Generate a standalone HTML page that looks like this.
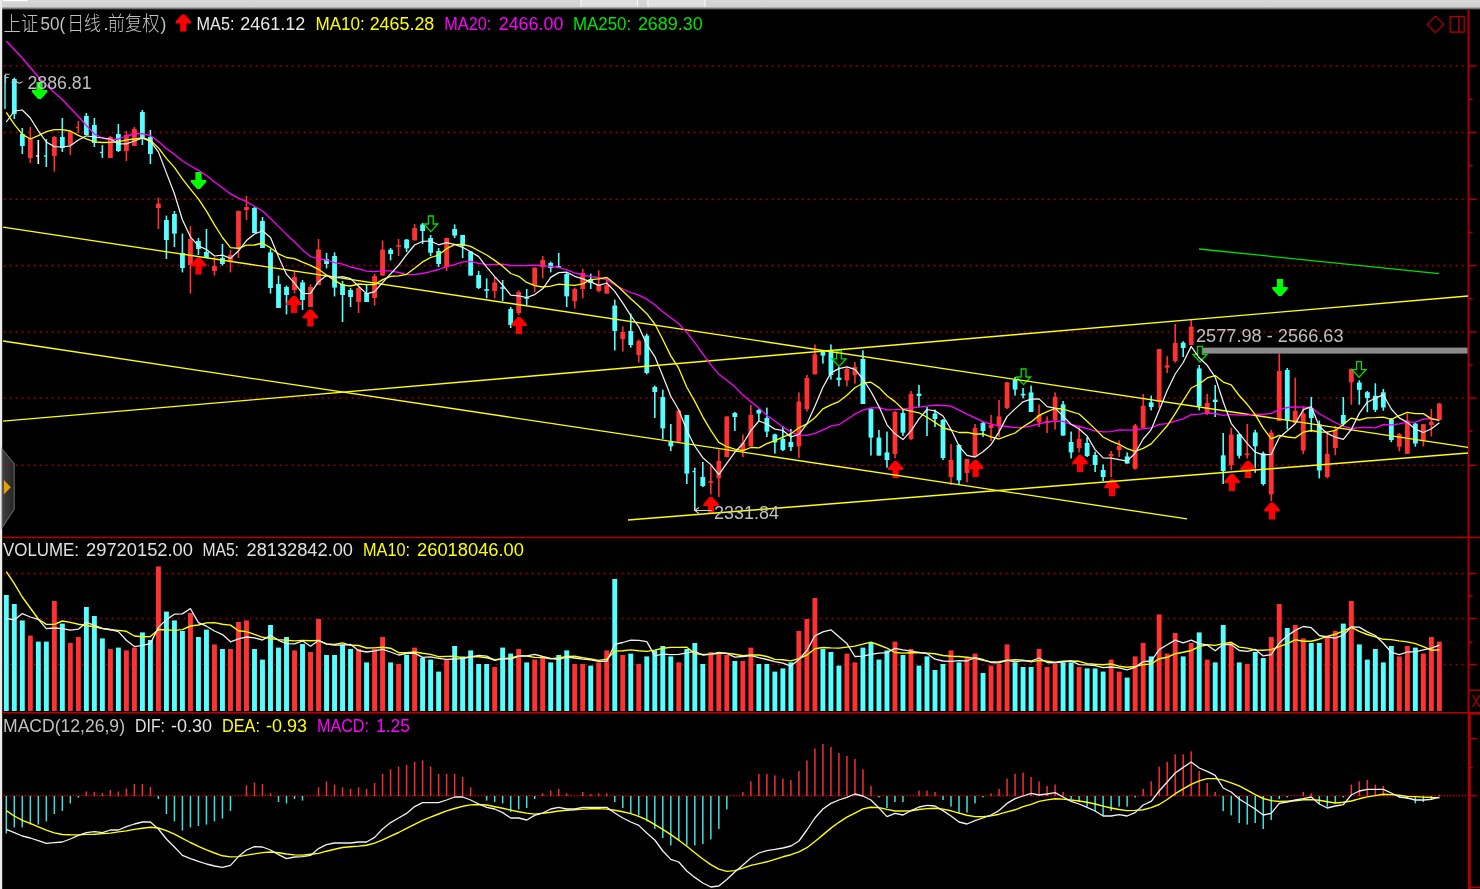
<!DOCTYPE html><html><head><meta charset="utf-8"><title>chart</title><style>html,body{margin:0;padding:0;background:#000;overflow:hidden}body{width:1480px;height:889px}</style></head><body><svg width="1480" height="889" viewBox="0 0 1480 889" style="display:block" font-family="'Liberation Sans','Noto Sans CJK SC',sans-serif">
<defs><linearGradient id="tg" x1="0" y1="0" x2="0" y2="1"><stop offset="0" stop-color="#d7d7d7"/><stop offset="0.68" stop-color="#d1d1d1"/><stop offset="0.86" stop-color="#707070"/><stop offset="1" stop-color="#000"/></linearGradient><linearGradient id="tab" x1="0" y1="0" x2="1" y2="0"><stop offset="0" stop-color="#404040"/><stop offset="1" stop-color="#262626"/></linearGradient><filter id="bl" x="0" y="0" width="1480" height="889" filterUnits="userSpaceOnUse"><feGaussianBlur stdDeviation="0.42"/></filter></defs>
<rect width="1480" height="889" fill="#000"/>
<rect x="0" y="0" width="1480" height="10" fill="url(#tg)"/>
<rect x="3" y="0" width="24.6" height="1.2" fill="#fff"/>
<rect x="580.5" y="0" width="57.5" height="6.6" fill="#e0e0e0"/><rect x="647.4" y="0" width="58" height="6.6" fill="#e0e0e0"/>
<rect x="580.5" y="0" width="1.2" height="6.6" fill="#f6f6f6"/>
<rect x="637" y="0" width="1.2" height="6.6" fill="#f6f6f6"/>
<rect x="647.4" y="0" width="1.2" height="6.6" fill="#f6f6f6"/>
<rect x="704.4" y="0" width="1.2" height="6.6" fill="#f6f6f6"/>
<rect x="0" y="0" width="2.2" height="889" fill="#ebebeb"/>
<g filter="url(#bl)">
<path d="M2.2 449 L14.2 464 L14.2 509 L2.2 527.5 Z" fill="url(#tab)" stroke="#5e5e5e" stroke-width="1.2"/>
<path d="M3.8 480 L10.8 487.3 L3.8 494.4 Z" fill="#e8a000"/>
<line x1="3.7" y1="66" x2="1466" y2="66" stroke="#ac0000" stroke-width="1.6" stroke-dasharray="1.7 4.3"/>
<line x1="3.7" y1="132.4" x2="1466" y2="132.4" stroke="#ac0000" stroke-width="1.6" stroke-dasharray="1.7 4.3"/>
<line x1="3.7" y1="199.3" x2="1466" y2="199.3" stroke="#ac0000" stroke-width="1.6" stroke-dasharray="1.7 4.3"/>
<line x1="3.7" y1="265.6" x2="1466" y2="265.6" stroke="#ac0000" stroke-width="1.6" stroke-dasharray="1.7 4.3"/>
<line x1="3.7" y1="332" x2="1466" y2="332" stroke="#ac0000" stroke-width="1.6" stroke-dasharray="1.7 4.3"/>
<line x1="3.7" y1="398" x2="1466" y2="398" stroke="#ac0000" stroke-width="1.6" stroke-dasharray="1.7 4.3"/>
<line x1="3.7" y1="465.3" x2="1466" y2="465.3" stroke="#ac0000" stroke-width="1.6" stroke-dasharray="1.7 4.3"/>
<line x1="3.7" y1="573.6" x2="1466" y2="573.6" stroke="#ac0000" stroke-width="1.6" stroke-dasharray="1.7 4.3"/>
<line x1="3.7" y1="618.5" x2="1466" y2="618.5" stroke="#ac0000" stroke-width="1.6" stroke-dasharray="1.7 4.3"/>
<line x1="3.7" y1="664.5" x2="1466" y2="664.5" stroke="#ac0000" stroke-width="1.6" stroke-dasharray="1.7 4.3"/>
<line x1="3.5" y1="795.8" x2="1466" y2="795.8" stroke="#ac0000" stroke-width="1.6" stroke-dasharray="1.7 1.3"/>
<rect x="2" y="536.7" width="1478" height="1.5" fill="#b40000"/>
<rect x="2" y="712" width="1478" height="1.6" fill="#b40000"/>
<rect x="1467.5" y="10" width="2.1" height="703" fill="#a80000"/>
<rect x="1467.8" y="713" width="3" height="176" fill="#b40000"/>
<rect x="1468" y="65.3" width="8.6" height="1.4" fill="#b40000"/>
<rect x="1468" y="98.5" width="4.6" height="1.4" fill="#b40000"/>
<rect x="1468" y="131.70000000000002" width="8.6" height="1.4" fill="#b40000"/>
<rect x="1468" y="164.90000000000003" width="4.6" height="1.4" fill="#b40000"/>
<rect x="1468" y="198.60000000000002" width="8.6" height="1.4" fill="#b40000"/>
<rect x="1468" y="231.8" width="4.6" height="1.4" fill="#b40000"/>
<rect x="1468" y="264.90000000000003" width="8.6" height="1.4" fill="#b40000"/>
<rect x="1468" y="298.1" width="4.6" height="1.4" fill="#b40000"/>
<rect x="1468" y="331.3" width="8.6" height="1.4" fill="#b40000"/>
<rect x="1468" y="364.5" width="4.6" height="1.4" fill="#b40000"/>
<rect x="1468" y="397.3" width="8.6" height="1.4" fill="#b40000"/>
<rect x="1468" y="430.5" width="4.6" height="1.4" fill="#b40000"/>
<rect x="1468" y="464.6" width="8.6" height="1.4" fill="#b40000"/>
<rect x="1468" y="572.9" width="8.6" height="1.4" fill="#b40000"/>
<rect x="1468" y="617.8" width="8.6" height="1.4" fill="#b40000"/>
<rect x="1468" y="663.8" width="8.6" height="1.4" fill="#b40000"/>
<rect x="1468" y="595.3" width="4.6" height="1.4" fill="#b40000"/>
<rect x="1468" y="641.5999999999999" width="4.6" height="1.4" fill="#b40000"/>
<rect x="1468" y="689.5" width="12" height="1.4" fill="#b40000"/>
<path d="M1472.5 695 L1480 707 M1480 695 L1472.5 707" stroke="#b40000" stroke-width="1.2" fill="none"/>
<rect x="1468" y="737.8" width="9.2" height="1.4" fill="#b40000"/>
<rect x="1468" y="766.8" width="4.8" height="1.4" fill="#b40000"/>
<rect x="1468" y="795.0999999999999" width="9.2" height="1.4" fill="#b40000"/>
<rect x="1468" y="712" width="12" height="2.6" fill="#b40000"/>
<rect x="1468" y="886.6" width="12" height="1.6" fill="#b40000"/>
<path d="M1435.5 16.2 L1443.7 24.4 L1435.5 32.6 L1427.3 24.4 Z" fill="none" stroke="#b40000" stroke-width="1.2"/>
<rect x="1450.2" y="16.5" width="14" height="15.6" fill="none" stroke="#b40000" stroke-width="1.3"/><line x1="1458.8" y1="16.5" x2="1458.8" y2="32" stroke="#b40000" stroke-width="1.3"/>
<rect x="4.30" y="75" width="1.4" height="34.0" fill="#54ffff"/>
<rect x="13.51" y="77.6" width="1.6" height="41.4" fill="#54ffff"/>
<rect x="11.91" y="79" width="4.8" height="35.0" fill="#54ffff"/>
<rect x="21.51" y="128" width="1.6" height="26.0" fill="#54ffff"/>
<rect x="19.91" y="134" width="4.8" height="12.0" fill="#54ffff"/>
<rect x="29.52" y="127" width="1.6" height="36.0" fill="#ff3232"/>
<rect x="27.92" y="138" width="4.8" height="20.0" fill="#ff3232"/>
<rect x="37.52" y="140" width="1.6" height="24.0" fill="#ffffff"/>
<rect x="35.92" y="155.3" width="2" height="1.4" fill="#ffffff"/>
<rect x="45.53" y="139" width="1.6" height="28.0" fill="#54ffff"/>
<rect x="43.93" y="155.3" width="2" height="1.4" fill="#54ffff"/>
<rect x="53.54" y="136" width="1.6" height="35.6" fill="#ff3232"/>
<rect x="51.94" y="137" width="4.8" height="19.0" fill="#ff3232"/>
<rect x="61.54" y="118" width="1.6" height="34.0" fill="#54ffff"/>
<rect x="59.94" y="137" width="4.8" height="11.0" fill="#54ffff"/>
<rect x="69.55" y="131" width="1.6" height="24.0" fill="#ff3232"/>
<rect x="67.95" y="132" width="4.8" height="13.0" fill="#ff3232"/>
<rect x="77.55" y="121" width="1.6" height="12.0" fill="#ff3232"/>
<rect x="75.95" y="126.8" width="2" height="1.4" fill="#ff3232"/>
<rect x="85.56" y="113" width="1.6" height="22.0" fill="#54ffff"/>
<rect x="83.96" y="116" width="4.8" height="19.0" fill="#54ffff"/>
<rect x="93.57" y="118" width="1.6" height="29.0" fill="#54ffff"/>
<rect x="91.97" y="125" width="4.8" height="18.0" fill="#54ffff"/>
<rect x="101.57" y="145" width="1.6" height="13.0" fill="#54ffff"/>
<rect x="99.97" y="151.8" width="2" height="1.4" fill="#54ffff"/>
<rect x="109.58" y="136" width="1.6" height="22.0" fill="#ff3232"/>
<rect x="107.98" y="137" width="4.8" height="21.0" fill="#ff3232"/>
<rect x="117.58" y="124" width="1.6" height="28.0" fill="#54ffff"/>
<rect x="115.98" y="134" width="4.8" height="17.0" fill="#54ffff"/>
<rect x="125.59" y="131" width="1.6" height="30.0" fill="#ff3232"/>
<rect x="123.99" y="135" width="4.8" height="16.0" fill="#ff3232"/>
<rect x="133.60" y="127" width="1.6" height="19.0" fill="#ff3232"/>
<rect x="132.00" y="129" width="4.8" height="17.0" fill="#ff3232"/>
<rect x="141.60" y="110" width="1.6" height="35.0" fill="#54ffff"/>
<rect x="140.00" y="112" width="4.8" height="26.0" fill="#54ffff"/>
<rect x="149.61" y="130" width="1.6" height="34.0" fill="#54ffff"/>
<rect x="148.01" y="137" width="4.8" height="17.0" fill="#54ffff"/>
<rect x="157.61" y="197.6" width="1.6" height="31.4" fill="#ff3232"/>
<rect x="156.01" y="203.6" width="4.8" height="4.4" fill="#ff3232"/>
<rect x="165.62" y="215.6" width="1.6" height="43.4" fill="#54ffff"/>
<rect x="164.02" y="220" width="4.8" height="20.0" fill="#54ffff"/>
<rect x="173.63" y="211" width="1.6" height="36.0" fill="#54ffff"/>
<rect x="172.03" y="214" width="4.8" height="19.6" fill="#54ffff"/>
<rect x="181.63" y="233.6" width="1.6" height="38.8" fill="#54ffff"/>
<rect x="180.03" y="253" width="4.8" height="15.0" fill="#54ffff"/>
<rect x="189.64" y="226" width="1.6" height="67.6" fill="#ff3232"/>
<rect x="188.04" y="239" width="4.8" height="26.0" fill="#ff3232"/>
<rect x="197.64" y="238" width="1.6" height="17.0" fill="#54ffff"/>
<rect x="196.04" y="241" width="4.8" height="8.0" fill="#54ffff"/>
<rect x="205.65" y="229" width="1.6" height="29.0" fill="#54ffff"/>
<rect x="204.05" y="252" width="4.8" height="6.0" fill="#54ffff"/>
<rect x="213.66" y="257" width="1.6" height="18.6" fill="#ff3232"/>
<rect x="212.06" y="266" width="4.8" height="5.0" fill="#ff3232"/>
<rect x="221.66" y="244" width="1.6" height="21.6" fill="#54ffff"/>
<rect x="220.06" y="258" width="4.8" height="6.0" fill="#54ffff"/>
<rect x="229.67" y="250" width="1.6" height="22.4" fill="#ff3232"/>
<rect x="228.07" y="255" width="4.8" height="6.0" fill="#ff3232"/>
<rect x="237.67" y="211" width="1.6" height="47.0" fill="#ff3232"/>
<rect x="236.07" y="211" width="4.8" height="38.0" fill="#ff3232"/>
<rect x="245.68" y="196" width="1.6" height="24.0" fill="#ff3232"/>
<rect x="244.08" y="207" width="4.8" height="3.0" fill="#ff3232"/>
<rect x="253.69" y="207" width="1.6" height="26.0" fill="#54ffff"/>
<rect x="252.09" y="208" width="4.8" height="25.0" fill="#54ffff"/>
<rect x="261.69" y="217" width="1.6" height="31.0" fill="#54ffff"/>
<rect x="260.09" y="221" width="4.8" height="27.0" fill="#54ffff"/>
<rect x="269.70" y="249" width="1.6" height="44.6" fill="#54ffff"/>
<rect x="268.10" y="252.4" width="4.8" height="35.6" fill="#54ffff"/>
<rect x="277.70" y="275.6" width="1.6" height="32.4" fill="#54ffff"/>
<rect x="276.10" y="284" width="4.8" height="24.0" fill="#54ffff"/>
<rect x="285.71" y="285.6" width="1.6" height="28.8" fill="#54ffff"/>
<rect x="284.11" y="287" width="4.8" height="8.0" fill="#54ffff"/>
<rect x="293.72" y="271" width="1.6" height="22.6" fill="#ff3232"/>
<rect x="292.12" y="277" width="4.8" height="13.0" fill="#ff3232"/>
<rect x="301.72" y="280" width="1.6" height="30.0" fill="#54ffff"/>
<rect x="300.12" y="282.4" width="4.8" height="17.6" fill="#54ffff"/>
<rect x="309.73" y="284.4" width="1.6" height="22.6" fill="#ff3232"/>
<rect x="308.13" y="287" width="4.8" height="20.0" fill="#ff3232"/>
<rect x="317.73" y="239" width="1.6" height="46.0" fill="#ff3232"/>
<rect x="316.13" y="249.6" width="4.8" height="35.4" fill="#ff3232"/>
<rect x="325.74" y="253" width="1.6" height="15.4" fill="#54ffff"/>
<rect x="324.14" y="259" width="4.8" height="5.0" fill="#54ffff"/>
<rect x="333.75" y="252.4" width="1.6" height="44.0" fill="#54ffff"/>
<rect x="332.15" y="256" width="4.8" height="31.6" fill="#54ffff"/>
<rect x="341.75" y="281" width="1.6" height="41.0" fill="#54ffff"/>
<rect x="340.15" y="284" width="4.8" height="11.0" fill="#54ffff"/>
<rect x="349.76" y="288" width="1.6" height="19.0" fill="#54ffff"/>
<rect x="348.16" y="290" width="4.8" height="7.0" fill="#54ffff"/>
<rect x="357.76" y="287" width="1.6" height="26.0" fill="#ff3232"/>
<rect x="356.16" y="288" width="4.8" height="14.0" fill="#ff3232"/>
<rect x="365.77" y="285" width="1.6" height="17.0" fill="#54ffff"/>
<rect x="364.17" y="293" width="4.8" height="9.0" fill="#54ffff"/>
<rect x="373.78" y="274" width="1.6" height="31.6" fill="#ff3232"/>
<rect x="372.18" y="276" width="4.8" height="22.0" fill="#ff3232"/>
<rect x="381.78" y="240.4" width="1.6" height="35.2" fill="#ff3232"/>
<rect x="380.18" y="249.6" width="4.8" height="26.0" fill="#ff3232"/>
<rect x="389.79" y="248" width="1.6" height="12.4" fill="#54ffff"/>
<rect x="388.19" y="249.6" width="4.8" height="4.4" fill="#54ffff"/>
<rect x="397.79" y="239" width="1.6" height="17.0" fill="#ff3232"/>
<rect x="396.19" y="245.2" width="4.8" height="1.6" fill="#ff3232"/>
<rect x="405.80" y="239" width="1.6" height="13.0" fill="#54ffff"/>
<rect x="404.20" y="239.6" width="4.8" height="8.8" fill="#54ffff"/>
<rect x="413.81" y="224" width="1.6" height="16.4" fill="#ff3232"/>
<rect x="412.21" y="228" width="4.8" height="12.4" fill="#ff3232"/>
<rect x="421.81" y="223" width="1.6" height="21.2" fill="#54ffff"/>
<rect x="420.21" y="224.4" width="4.8" height="6.6" fill="#54ffff"/>
<rect x="429.82" y="235" width="1.6" height="21.2" fill="#54ffff"/>
<rect x="428.22" y="238" width="4.8" height="14.7" fill="#54ffff"/>
<rect x="437.82" y="248" width="1.6" height="19.0" fill="#54ffff"/>
<rect x="436.22" y="251" width="4.8" height="13.0" fill="#54ffff"/>
<rect x="445.83" y="237.6" width="1.6" height="33.4" fill="#ff3232"/>
<rect x="444.23" y="238" width="4.8" height="29.0" fill="#ff3232"/>
<rect x="453.84" y="224.4" width="1.6" height="13.6" fill="#54ffff"/>
<rect x="452.24" y="229" width="4.8" height="6.6" fill="#54ffff"/>
<rect x="461.84" y="235" width="1.6" height="23.0" fill="#54ffff"/>
<rect x="460.24" y="235" width="4.8" height="11.0" fill="#54ffff"/>
<rect x="469.85" y="251" width="1.6" height="24.6" fill="#54ffff"/>
<rect x="468.25" y="251.6" width="4.8" height="24.0" fill="#54ffff"/>
<rect x="477.85" y="271" width="1.6" height="18.0" fill="#54ffff"/>
<rect x="476.25" y="275" width="4.8" height="13.0" fill="#54ffff"/>
<rect x="485.86" y="278.4" width="1.6" height="20.0" fill="#54ffff"/>
<rect x="484.26" y="289.2" width="4.8" height="1.6" fill="#54ffff"/>
<rect x="493.87" y="277" width="1.6" height="21.4" fill="#ff3232"/>
<rect x="492.27" y="282.4" width="4.8" height="8.6" fill="#ff3232"/>
<rect x="501.87" y="280" width="1.6" height="21.0" fill="#54ffff"/>
<rect x="500.27" y="287.2" width="4.8" height="1.6" fill="#54ffff"/>
<rect x="509.88" y="307" width="1.6" height="21.0" fill="#54ffff"/>
<rect x="508.28" y="309" width="4.8" height="16.0" fill="#54ffff"/>
<rect x="517.88" y="290.4" width="1.6" height="24.6" fill="#ff3232"/>
<rect x="516.28" y="292" width="4.8" height="21.0" fill="#ff3232"/>
<rect x="525.89" y="289" width="1.6" height="16.0" fill="#54ffff"/>
<rect x="524.29" y="297.2" width="4.8" height="1.6" fill="#54ffff"/>
<rect x="533.90" y="267" width="1.6" height="25.4" fill="#ff3232"/>
<rect x="532.30" y="268" width="4.8" height="18.0" fill="#ff3232"/>
<rect x="541.90" y="256" width="1.6" height="22.4" fill="#ff3232"/>
<rect x="540.30" y="260" width="4.8" height="7.0" fill="#ff3232"/>
<rect x="549.91" y="261.6" width="1.6" height="10.8" fill="#54ffff"/>
<rect x="548.31" y="263" width="4.8" height="5.0" fill="#54ffff"/>
<rect x="557.91" y="253" width="1.6" height="15.0" fill="#54ffff"/>
<rect x="556.31" y="266.2" width="4.8" height="1.6" fill="#54ffff"/>
<rect x="565.92" y="273" width="1.6" height="34.0" fill="#54ffff"/>
<rect x="564.32" y="274" width="4.8" height="22.4" fill="#54ffff"/>
<rect x="573.93" y="287.6" width="1.6" height="20.8" fill="#ff3232"/>
<rect x="572.33" y="289" width="4.8" height="12.0" fill="#ff3232"/>
<rect x="581.93" y="269" width="1.6" height="29.4" fill="#ff3232"/>
<rect x="580.33" y="273" width="4.8" height="16.0" fill="#ff3232"/>
<rect x="589.94" y="273.6" width="1.6" height="15.4" fill="#54ffff"/>
<rect x="588.34" y="279" width="4.8" height="4.0" fill="#54ffff"/>
<rect x="597.94" y="270.4" width="1.6" height="22.0" fill="#ff3232"/>
<rect x="596.34" y="285" width="4.8" height="6.0" fill="#ff3232"/>
<rect x="605.95" y="279" width="1.6" height="14.6" fill="#ff3232"/>
<rect x="604.35" y="285" width="4.8" height="8.6" fill="#ff3232"/>
<rect x="613.96" y="299.6" width="1.6" height="50.8" fill="#54ffff"/>
<rect x="612.36" y="305.6" width="4.8" height="25.4" fill="#54ffff"/>
<rect x="621.96" y="326.4" width="1.6" height="25.2" fill="#ff3232"/>
<rect x="620.36" y="332" width="4.8" height="7.0" fill="#ff3232"/>
<rect x="629.97" y="313.6" width="1.6" height="34.0" fill="#54ffff"/>
<rect x="628.37" y="331" width="4.8" height="14.0" fill="#54ffff"/>
<rect x="637.97" y="339.6" width="1.6" height="22.8" fill="#ff3232"/>
<rect x="636.37" y="341" width="4.8" height="14.0" fill="#ff3232"/>
<rect x="645.98" y="333.6" width="1.6" height="40.8" fill="#54ffff"/>
<rect x="644.38" y="335.6" width="4.8" height="37.4" fill="#54ffff"/>
<rect x="653.99" y="385.6" width="1.6" height="32.4" fill="#54ffff"/>
<rect x="652.39" y="387" width="4.8" height="5.0" fill="#54ffff"/>
<rect x="661.99" y="389.6" width="1.6" height="49.4" fill="#54ffff"/>
<rect x="660.39" y="397" width="4.8" height="31.4" fill="#54ffff"/>
<rect x="670.00" y="424" width="1.6" height="27.0" fill="#54ffff"/>
<rect x="668.40" y="442" width="4.8" height="4.4" fill="#54ffff"/>
<rect x="678.00" y="410.4" width="1.6" height="31.2" fill="#ff3232"/>
<rect x="676.40" y="410.4" width="4.8" height="31.2" fill="#ff3232"/>
<rect x="686.01" y="415" width="1.6" height="69.0" fill="#54ffff"/>
<rect x="684.41" y="415" width="4.8" height="58.6" fill="#54ffff"/>
<rect x="694.02" y="467.6" width="1.6" height="43.4" fill="#54ffff"/>
<rect x="692.42" y="470.8" width="2" height="1.4" fill="#54ffff"/>
<rect x="702.02" y="462" width="1.6" height="25.0" fill="#54ffff"/>
<rect x="700.42" y="477" width="4.8" height="9.0" fill="#54ffff"/>
<rect x="710.03" y="465.6" width="1.6" height="28.8" fill="#ff3232"/>
<rect x="708.43" y="481.2" width="4.8" height="1.6" fill="#ff3232"/>
<rect x="718.03" y="449.6" width="1.6" height="47.4" fill="#ff3232"/>
<rect x="716.43" y="461" width="4.8" height="17.0" fill="#ff3232"/>
<rect x="726.04" y="416.4" width="1.6" height="40.6" fill="#ff3232"/>
<rect x="724.44" y="416.4" width="4.8" height="40.6" fill="#ff3232"/>
<rect x="734.05" y="412" width="1.6" height="19.0" fill="#54ffff"/>
<rect x="732.45" y="413" width="4.8" height="4.0" fill="#54ffff"/>
<rect x="742.05" y="434.4" width="1.6" height="22.6" fill="#ff3232"/>
<rect x="740.45" y="443" width="4.8" height="8.0" fill="#ff3232"/>
<rect x="750.06" y="405" width="1.6" height="41.4" fill="#ff3232"/>
<rect x="748.46" y="415" width="4.8" height="31.4" fill="#ff3232"/>
<rect x="758.06" y="409" width="1.6" height="12.0" fill="#54ffff"/>
<rect x="756.46" y="410" width="4.8" height="3.6" fill="#54ffff"/>
<rect x="766.07" y="407.6" width="1.6" height="29.4" fill="#54ffff"/>
<rect x="764.47" y="418" width="4.8" height="13.6" fill="#54ffff"/>
<rect x="774.08" y="433.6" width="1.6" height="20.0" fill="#54ffff"/>
<rect x="772.48" y="434.4" width="4.8" height="8.0" fill="#54ffff"/>
<rect x="782.08" y="426" width="1.6" height="25.0" fill="#54ffff"/>
<rect x="780.48" y="439" width="4.8" height="11.0" fill="#54ffff"/>
<rect x="790.09" y="429" width="1.6" height="22.0" fill="#54ffff"/>
<rect x="788.49" y="442" width="4.8" height="5.0" fill="#54ffff"/>
<rect x="798.09" y="392.4" width="1.6" height="65.6" fill="#ff3232"/>
<rect x="796.49" y="401.6" width="4.8" height="44.8" fill="#ff3232"/>
<rect x="806.10" y="375" width="1.6" height="36.6" fill="#ff3232"/>
<rect x="804.50" y="378" width="4.8" height="31.0" fill="#ff3232"/>
<rect x="814.11" y="344.4" width="1.6" height="30.0" fill="#ff3232"/>
<rect x="812.51" y="354.4" width="4.8" height="20.0" fill="#ff3232"/>
<rect x="822.11" y="351" width="1.6" height="12.6" fill="#54ffff"/>
<rect x="820.51" y="351.6" width="4.8" height="4.0" fill="#54ffff"/>
<rect x="830.12" y="344.4" width="1.6" height="35.2" fill="#54ffff"/>
<rect x="828.52" y="351" width="4.8" height="24.0" fill="#54ffff"/>
<rect x="838.12" y="367" width="1.6" height="19.4" fill="#54ffff"/>
<rect x="836.52" y="377.6" width="4.8" height="2.4" fill="#54ffff"/>
<rect x="846.13" y="367" width="1.6" height="19.4" fill="#ff3232"/>
<rect x="844.53" y="369" width="4.8" height="11.4" fill="#ff3232"/>
<rect x="854.14" y="362" width="1.6" height="21.6" fill="#ff3232"/>
<rect x="852.54" y="367" width="4.8" height="8.0" fill="#ff3232"/>
<rect x="862.14" y="350.4" width="1.6" height="53.6" fill="#54ffff"/>
<rect x="860.54" y="359" width="4.8" height="45.0" fill="#54ffff"/>
<rect x="870.15" y="408" width="1.6" height="47.6" fill="#54ffff"/>
<rect x="868.55" y="409" width="4.8" height="28.6" fill="#54ffff"/>
<rect x="878.15" y="430" width="1.6" height="25.6" fill="#54ffff"/>
<rect x="876.55" y="437.6" width="4.8" height="18.0" fill="#54ffff"/>
<rect x="886.16" y="431.6" width="1.6" height="36.0" fill="#54ffff"/>
<rect x="884.56" y="452.4" width="4.8" height="7.6" fill="#54ffff"/>
<rect x="894.17" y="411" width="1.6" height="47.4" fill="#ff3232"/>
<rect x="892.57" y="412" width="4.8" height="42.0" fill="#ff3232"/>
<rect x="902.17" y="409.6" width="1.6" height="26.4" fill="#54ffff"/>
<rect x="900.57" y="413" width="4.8" height="19.7" fill="#54ffff"/>
<rect x="910.18" y="391" width="1.6" height="49.2" fill="#ff3232"/>
<rect x="908.58" y="393.8" width="4.8" height="45.2" fill="#ff3232"/>
<rect x="918.18" y="385" width="1.6" height="22.0" fill="#54ffff"/>
<rect x="916.58" y="393.6" width="4.8" height="2.4" fill="#54ffff"/>
<rect x="926.19" y="407" width="1.6" height="29.0" fill="#54ffff"/>
<rect x="924.59" y="411.3" width="2" height="1.4" fill="#54ffff"/>
<rect x="934.20" y="409.6" width="1.6" height="17.4" fill="#54ffff"/>
<rect x="932.60" y="413.6" width="4.8" height="5.4" fill="#54ffff"/>
<rect x="942.20" y="419" width="1.6" height="41.0" fill="#54ffff"/>
<rect x="940.60" y="420" width="4.8" height="38.0" fill="#54ffff"/>
<rect x="950.21" y="444" width="1.6" height="41.0" fill="#ff3232"/>
<rect x="948.61" y="460" width="4.8" height="17.0" fill="#ff3232"/>
<rect x="958.21" y="444" width="1.6" height="40.0" fill="#54ffff"/>
<rect x="956.61" y="445" width="4.8" height="35.4" fill="#54ffff"/>
<rect x="966.22" y="459" width="1.6" height="23.4" fill="#ff3232"/>
<rect x="964.62" y="459" width="4.8" height="14.0" fill="#ff3232"/>
<rect x="974.23" y="424" width="1.6" height="33.0" fill="#ff3232"/>
<rect x="972.63" y="428" width="4.8" height="29.0" fill="#ff3232"/>
<rect x="982.23" y="421" width="1.6" height="16.0" fill="#54ffff"/>
<rect x="980.63" y="423" width="4.8" height="8.0" fill="#54ffff"/>
<rect x="990.24" y="415" width="1.6" height="26.0" fill="#ff3232"/>
<rect x="988.64" y="425" width="4.8" height="3.0" fill="#ff3232"/>
<rect x="998.24" y="400" width="1.6" height="37.0" fill="#ff3232"/>
<rect x="996.64" y="416.4" width="4.8" height="10.0" fill="#ff3232"/>
<rect x="1006.25" y="382" width="1.6" height="27.0" fill="#ff3232"/>
<rect x="1004.65" y="382.4" width="4.8" height="25.6" fill="#ff3232"/>
<rect x="1014.26" y="377" width="1.6" height="18.6" fill="#54ffff"/>
<rect x="1012.66" y="380" width="4.8" height="9.6" fill="#54ffff"/>
<rect x="1022.26" y="388" width="1.6" height="10.4" fill="#54ffff"/>
<rect x="1020.66" y="393.8" width="4.8" height="1.6" fill="#54ffff"/>
<rect x="1030.27" y="385.6" width="1.6" height="26.4" fill="#54ffff"/>
<rect x="1028.67" y="392.4" width="4.8" height="19.6" fill="#54ffff"/>
<rect x="1038.27" y="404.4" width="1.6" height="22.6" fill="#ff3232"/>
<rect x="1036.67" y="415" width="4.8" height="7.4" fill="#ff3232"/>
<rect x="1046.28" y="416.4" width="1.6" height="16.6" fill="#ff3232"/>
<rect x="1044.68" y="421.2" width="4.8" height="1.6" fill="#ff3232"/>
<rect x="1054.29" y="392.4" width="1.6" height="37.2" fill="#ff3232"/>
<rect x="1052.69" y="397" width="4.8" height="23.0" fill="#ff3232"/>
<rect x="1062.29" y="401" width="1.6" height="34.6" fill="#54ffff"/>
<rect x="1060.69" y="404.4" width="4.8" height="31.2" fill="#54ffff"/>
<rect x="1070.30" y="431.6" width="1.6" height="26.8" fill="#54ffff"/>
<rect x="1068.70" y="442" width="4.8" height="10.4" fill="#54ffff"/>
<rect x="1078.30" y="425.6" width="1.6" height="26.8" fill="#ff3232"/>
<rect x="1076.70" y="439" width="4.8" height="9.0" fill="#ff3232"/>
<rect x="1086.31" y="437" width="1.6" height="20.0" fill="#54ffff"/>
<rect x="1084.71" y="443" width="4.8" height="13.0" fill="#54ffff"/>
<rect x="1094.32" y="451.6" width="1.6" height="20.4" fill="#54ffff"/>
<rect x="1092.72" y="455" width="4.8" height="10.0" fill="#54ffff"/>
<rect x="1102.32" y="464.4" width="1.6" height="16.6" fill="#54ffff"/>
<rect x="1100.72" y="470" width="4.8" height="7.0" fill="#54ffff"/>
<rect x="1110.33" y="451" width="1.6" height="26.0" fill="#ff3232"/>
<rect x="1108.73" y="454" width="4.8" height="2.4" fill="#ff3232"/>
<rect x="1118.33" y="440.4" width="1.6" height="16.6" fill="#ff3232"/>
<rect x="1116.73" y="446" width="4.8" height="4.0" fill="#ff3232"/>
<rect x="1126.34" y="452.4" width="1.6" height="11.2" fill="#54ffff"/>
<rect x="1124.74" y="456.4" width="4.8" height="7.2" fill="#54ffff"/>
<rect x="1134.35" y="424" width="1.6" height="45.6" fill="#ff3232"/>
<rect x="1132.75" y="425.5" width="4.8" height="43.2" fill="#ff3232"/>
<rect x="1142.35" y="394" width="1.6" height="33.8" fill="#ff3232"/>
<rect x="1140.75" y="405.8" width="4.8" height="22.0" fill="#ff3232"/>
<rect x="1150.36" y="395.6" width="1.6" height="14.8" fill="#54ffff"/>
<rect x="1148.76" y="402.4" width="4.8" height="4.6" fill="#54ffff"/>
<rect x="1158.36" y="349" width="1.6" height="58.8" fill="#ff3232"/>
<rect x="1156.76" y="349" width="4.8" height="53.0" fill="#ff3232"/>
<rect x="1166.37" y="356.2" width="1.6" height="16.8" fill="#ff3232"/>
<rect x="1164.77" y="365.3" width="4.8" height="2.3" fill="#ff3232"/>
<rect x="1174.38" y="324" width="1.6" height="38.7" fill="#ff3232"/>
<rect x="1172.78" y="343" width="4.8" height="18.0" fill="#ff3232"/>
<rect x="1182.38" y="341.3" width="1.6" height="15.7" fill="#54ffff"/>
<rect x="1180.78" y="342.7" width="4.8" height="5.3" fill="#54ffff"/>
<rect x="1190.39" y="320" width="1.6" height="25.0" fill="#ff3232"/>
<rect x="1188.79" y="326.5" width="4.8" height="18.5" fill="#ff3232"/>
<rect x="1198.39" y="365" width="1.6" height="45.4" fill="#54ffff"/>
<rect x="1196.79" y="368.4" width="4.8" height="37.6" fill="#54ffff"/>
<rect x="1206.40" y="394" width="1.6" height="21.0" fill="#ff3232"/>
<rect x="1204.80" y="403" width="4.8" height="10.0" fill="#ff3232"/>
<rect x="1214.41" y="385" width="1.6" height="32.0" fill="#54ffff"/>
<rect x="1212.81" y="399.6" width="4.8" height="2.4" fill="#54ffff"/>
<rect x="1222.41" y="433" width="1.6" height="51.0" fill="#54ffff"/>
<rect x="1220.81" y="455.3" width="4.8" height="15.7" fill="#54ffff"/>
<rect x="1230.42" y="428" width="1.6" height="42.0" fill="#ff3232"/>
<rect x="1228.82" y="434.5" width="4.8" height="30.5" fill="#ff3232"/>
<rect x="1238.42" y="434" width="1.6" height="24.4" fill="#54ffff"/>
<rect x="1236.82" y="434.2" width="4.8" height="21.6" fill="#54ffff"/>
<rect x="1246.43" y="424" width="1.6" height="34.5" fill="#ff3232"/>
<rect x="1244.83" y="453.5" width="4.8" height="1.6" fill="#ff3232"/>
<rect x="1254.44" y="429.8" width="1.6" height="43.0" fill="#54ffff"/>
<rect x="1252.84" y="432.4" width="4.8" height="13.9" fill="#54ffff"/>
<rect x="1262.44" y="451.5" width="1.6" height="34.1" fill="#54ffff"/>
<rect x="1260.84" y="453.3" width="4.8" height="30.7" fill="#54ffff"/>
<rect x="1270.45" y="429.8" width="1.6" height="71.2" fill="#ff3232"/>
<rect x="1268.85" y="432.5" width="4.8" height="61.9" fill="#ff3232"/>
<rect x="1278.45" y="353.6" width="1.6" height="67.4" fill="#ff3232"/>
<rect x="1276.85" y="371" width="4.8" height="50.0" fill="#ff3232"/>
<rect x="1286.46" y="368" width="1.6" height="61.5" fill="#54ffff"/>
<rect x="1284.86" y="370" width="4.8" height="50.0" fill="#54ffff"/>
<rect x="1294.47" y="377.6" width="1.6" height="45.4" fill="#ff3232"/>
<rect x="1292.87" y="411" width="4.8" height="12.0" fill="#ff3232"/>
<rect x="1302.47" y="406.5" width="1.6" height="47.7" fill="#ff3232"/>
<rect x="1300.87" y="413.5" width="4.8" height="37.0" fill="#ff3232"/>
<rect x="1310.48" y="397" width="1.6" height="35.0" fill="#54ffff"/>
<rect x="1308.88" y="408" width="4.8" height="10.0" fill="#54ffff"/>
<rect x="1318.48" y="420.5" width="1.6" height="57.9" fill="#54ffff"/>
<rect x="1316.88" y="424.5" width="4.8" height="46.0" fill="#54ffff"/>
<rect x="1326.49" y="431.5" width="1.6" height="46.9" fill="#ff3232"/>
<rect x="1324.89" y="454" width="4.8" height="23.0" fill="#ff3232"/>
<rect x="1334.50" y="425.8" width="1.6" height="29.5" fill="#ff3232"/>
<rect x="1332.90" y="430" width="4.8" height="18.0" fill="#ff3232"/>
<rect x="1342.50" y="397" width="1.6" height="29.2" fill="#54ffff"/>
<rect x="1340.90" y="415" width="4.8" height="9.2" fill="#54ffff"/>
<rect x="1350.51" y="368.4" width="1.6" height="36.3" fill="#ff3232"/>
<rect x="1348.91" y="369" width="4.8" height="13.3" fill="#ff3232"/>
<rect x="1358.51" y="380.2" width="1.6" height="24.5" fill="#54ffff"/>
<rect x="1356.91" y="382.5" width="4.8" height="7.3" fill="#54ffff"/>
<rect x="1366.52" y="391" width="1.6" height="21.2" fill="#54ffff"/>
<rect x="1364.92" y="392.2" width="4.8" height="5.8" fill="#54ffff"/>
<rect x="1374.53" y="383.3" width="1.6" height="28.7" fill="#54ffff"/>
<rect x="1372.93" y="395.8" width="4.8" height="14.0" fill="#54ffff"/>
<rect x="1382.53" y="389" width="1.6" height="21.7" fill="#54ffff"/>
<rect x="1380.93" y="392.3" width="4.8" height="15.2" fill="#54ffff"/>
<rect x="1390.54" y="418" width="1.6" height="24.2" fill="#54ffff"/>
<rect x="1388.94" y="419.3" width="4.8" height="20.7" fill="#54ffff"/>
<rect x="1398.54" y="433" width="1.6" height="18.3" fill="#ff3232"/>
<rect x="1396.94" y="434.2" width="4.8" height="12.5" fill="#ff3232"/>
<rect x="1406.55" y="413.8" width="1.6" height="40.0" fill="#ff3232"/>
<rect x="1404.95" y="420.5" width="4.8" height="33.3" fill="#ff3232"/>
<rect x="1414.56" y="423" width="1.6" height="23.7" fill="#54ffff"/>
<rect x="1412.96" y="423.6" width="4.8" height="19.9" fill="#54ffff"/>
<rect x="1422.56" y="424" width="1.6" height="22.4" fill="#ff3232"/>
<rect x="1420.96" y="424.2" width="4.8" height="16.3" fill="#ff3232"/>
<rect x="1430.57" y="409" width="1.6" height="27.4" fill="#ff3232"/>
<rect x="1428.97" y="421.6" width="4.8" height="3.4" fill="#ff3232"/>
<rect x="1438.57" y="403" width="1.6" height="17.0" fill="#ff3232"/>
<rect x="1436.97" y="403.6" width="4.8" height="16.4" fill="#ff3232"/>
<path d="M36.5 82 h6.2 v8 h4.6 v2 l-6.2 7 h-3 l-6.2 -7 v-2 h4.6 z" fill="#00ff00"/>
<path d="M195.4 172 h6.2 v8 h4.6 v2 l-6.2 7 h-3 l-6.2 -7 v-2 h4.6 z" fill="#00ff00"/>
<path d="M1276.9 279 h6.2 v8 h4.6 v2 l-6.2 7 h-3 l-6.2 -7 v-2 h4.6 z" fill="#00ff00"/>
<path d="M197.0 257.5 h3 l6.2 7 v2 h-4.6 v8 h-6.2 v-8 h-4.6 v-2 z" fill="#ff0000"/>
<path d="M292.5 296 h3 l6.2 7 v2 h-4.6 v8 h-6.2 v-8 h-4.6 v-2 z" fill="#ff0000"/>
<path d="M308.9 309.5 h3 l6.2 7 v2 h-4.6 v8 h-6.2 v-8 h-4.6 v-2 z" fill="#ff0000"/>
<path d="M517.5 317 h3 l6.2 7 v2 h-4.6 v8 h-6.2 v-8 h-4.6 v-2 z" fill="#ff0000"/>
<path d="M709.5 497 h3 l6.2 7 v2 h-4.6 v8 h-6.2 v-8 h-4.6 v-2 z" fill="#ff0000"/>
<path d="M894.1 461 h3 l6.2 7 v2 h-4.6 v8 h-6.2 v-8 h-4.6 v-2 z" fill="#ff0000"/>
<path d="M974.1 460 h3 l6.2 7 v2 h-4.6 v8 h-6.2 v-8 h-4.6 v-2 z" fill="#ff0000"/>
<path d="M1078.5 455 h3 l6.2 7 v2 h-4.6 v8 h-6.2 v-8 h-4.6 v-2 z" fill="#ff0000"/>
<path d="M1110.5 479.2 h3 l6.2 7 v2 h-4.6 v8 h-6.2 v-8 h-4.6 v-2 z" fill="#ff0000"/>
<path d="M1230.5 474 h3 l6.2 7 v2 h-4.6 v8 h-6.2 v-8 h-4.6 v-2 z" fill="#ff0000"/>
<path d="M1246.5 461 h3 l6.2 7 v2 h-4.6 v8 h-6.2 v-8 h-4.6 v-2 z" fill="#ff0000"/>
<path d="M1270.5 502.5 h3 l6.2 7 v2 h-4.6 v8 h-6.2 v-8 h-4.6 v-2 z" fill="#ff0000"/>
<path d="M428.4 216 h4.8 v8 h4.6 l-7 7.6 l-7 -7.6 h4.6 z" fill="none" stroke="#00dc00" stroke-width="1.3"/>
<path d="M836.6 350.8 h4.8 v8 h4.6 l-7 7.6 l-7 -7.6 h4.6 z" fill="none" stroke="#00dc00" stroke-width="1.3"/>
<path d="M1021.2 369 h4.8 v8 h4.6 l-7 7.6 l-7 -7.6 h4.6 z" fill="none" stroke="#00dc00" stroke-width="1.3"/>
<path d="M1197.6 346.4 h4.8 v8 h4.6 l-7 7.6 l-7 -7.6 h4.6 z" fill="none" stroke="#00dc00" stroke-width="1.3"/>
<path d="M1356.6 361.6 h4.8 v8 h4.6 l-7 7.6 l-7 -7.6 h4.6 z" fill="none" stroke="#00dc00" stroke-width="1.3"/>
<path d="M181.8 14.5 h3 l6.2 7 v2 h-4.6 v8 h-6.2 v-8 h-4.6 v-2 z" fill="#ff0000"/>
<line x1="3" y1="227.2" x2="1468" y2="447.4" stroke="#ffff00" stroke-width="1.35"/>
<line x1="3" y1="341" x2="1187" y2="518.9" stroke="#ffff00" stroke-width="1.35"/>
<line x1="3" y1="421.2" x2="1468" y2="296" stroke="#ffff00" stroke-width="1.35"/>
<line x1="628" y1="520" x2="1468" y2="453" stroke="#ffff00" stroke-width="1.35"/>
<line x1="1199" y1="249" x2="1439" y2="273.6" stroke="#00e000" stroke-width="1.35"/>
<rect x="1203" y="347.6" width="264.5" height="6" fill="#8c8c8c"/>
<polyline points="6.3,41.0 14.3,49.5 22.3,58.0 30.3,67.5 38.3,77.0 46.3,85.0 54.3,92.5 62.3,99.5 70.3,108.0 78.4,116.5 86.4,125.5 94.4,134.0 102.4,138.0 110.4,140.0 118.4,139.0 126.4,136.0 134.4,134.0 142.4,133.6 150.4,135.6 158.4,141.6 166.4,148.6 174.4,154.6 182.4,160.7 190.4,165.8 198.4,170.4 206.5,175.5 214.5,182.0 222.5,187.8 230.5,193.9 238.5,198.1 246.5,201.7 254.5,206.2 262.5,211.0 270.5,218.5 278.5,226.4 286.5,234.4 294.5,241.8 302.5,249.9 310.5,256.5 318.5,258.8 326.5,260.0 334.5,262.7 342.6,264.1 350.6,267.0 358.6,268.9 366.6,271.1 374.6,271.6 382.6,270.9 390.6,270.8 398.6,272.5 406.6,274.6 414.6,274.4 422.6,273.5 430.6,271.7 438.6,269.5 446.6,266.7 454.6,264.6 462.6,261.9 470.6,261.4 478.7,263.3 486.7,264.6 494.7,264.4 502.7,264.1 510.7,265.5 518.7,265.7 526.7,265.5 534.7,265.1 542.7,265.6 550.7,266.3 558.7,267.5 566.7,269.9 574.7,272.9 582.7,275.0 590.7,276.6 598.7,277.6 606.8,279.9 614.8,284.7 622.8,289.0 630.8,292.5 638.8,295.1 646.8,299.2 654.8,304.7 662.8,311.7 670.8,317.8 678.8,323.7 686.8,332.4 694.8,342.6 702.8,353.9 710.8,364.6 718.8,374.2 726.8,380.2 734.8,386.6 742.9,395.1 750.9,401.7 758.9,408.1 766.9,415.5 774.9,421.0 782.9,426.9 790.9,432.0 798.9,435.1 806.9,435.3 814.9,433.4 822.9,429.8 830.9,426.2 838.9,424.7 846.9,419.5 854.9,414.2 862.9,410.1 870.9,408.0 879.0,407.7 887.0,409.9 895.0,409.6 903.0,409.1 911.0,408.0 919.0,407.2 927.0,406.2 935.0,405.1 943.0,405.5 951.0,406.1 959.0,410.1 967.0,414.1 975.0,417.8 983.0,421.6 991.0,424.1 999.0,425.9 1007.0,426.5 1015.1,427.7 1023.1,427.3 1031.1,426.0 1039.1,423.9 1047.1,422.0 1055.1,421.2 1063.1,421.4 1071.1,424.3 1079.1,426.5 1087.1,428.6 1095.1,430.9 1103.1,431.9 1111.1,431.6 1119.1,429.9 1127.1,430.1 1135.1,430.0 1143.2,428.7 1151.2,427.8 1159.2,424.4 1167.2,423.6 1175.2,421.2 1183.2,418.9 1191.2,414.6 1199.2,414.1 1207.2,413.2 1215.2,413.5 1223.2,415.3 1231.2,414.4 1239.2,415.2 1247.2,415.1 1255.2,414.1 1263.2,414.5 1271.2,413.4 1279.3,409.7 1287.3,407.5 1295.3,406.8 1303.3,407.1 1311.3,407.7 1319.3,413.8 1327.3,418.2 1335.3,422.5 1343.3,426.4 1351.3,428.5 1359.3,427.7 1367.3,427.4 1375.3,427.8 1383.3,424.6 1391.3,424.9 1399.3,423.8 1407.3,422.2 1415.4,422.1 1423.4,419.1 1431.4,418.5 1439.4,420.1" fill="none" stroke="#ff00ff" stroke-width="1.3" stroke-linejoin="round"/>
<polyline points="6.3,112.4 14.3,124.4 22.3,134.4 30.3,139.0 38.3,135.6 46.3,131.6 54.3,129.6 62.3,129.6 70.3,131.0 78.4,135.4 86.4,138.9 94.4,141.8 102.4,142.5 110.4,142.4 118.4,141.9 126.4,139.8 134.4,139.0 142.4,138.0 150.4,140.2 158.4,147.9 166.4,158.4 174.4,167.4 182.4,178.9 190.4,189.1 198.4,198.9 206.5,211.2 214.5,224.9 222.5,237.5 230.5,247.6 238.5,248.4 246.5,245.1 254.5,245.0 262.5,243.0 270.5,247.9 278.5,253.8 286.5,257.5 294.5,258.6 302.5,262.2 310.5,265.4 318.5,269.3 326.5,275.0 334.5,280.4 342.6,285.1 350.6,286.0 358.6,284.0 366.6,284.7 374.6,284.6 382.6,279.6 390.6,276.3 398.6,275.8 406.6,274.3 414.6,268.3 422.6,261.9 430.6,257.5 438.6,255.1 446.6,248.7 454.6,244.6 462.6,244.3 470.6,246.4 478.7,250.7 486.7,255.0 494.7,260.4 502.7,266.2 510.7,273.5 518.7,276.3 526.7,282.4 534.7,285.6 542.7,287.0 550.7,286.2 558.7,284.2 566.7,284.8 574.7,285.4 582.7,283.8 590.7,279.6 598.7,278.9 606.8,277.5 614.8,283.8 622.8,291.0 630.8,298.7 638.8,306.0 646.8,313.7 654.8,324.0 662.8,339.5 670.8,355.9 678.8,368.4 686.8,387.3 694.8,401.4 702.8,416.8 710.8,430.4 718.8,442.4 726.8,446.7 734.8,449.2 742.9,450.7 750.9,447.5 758.9,447.9 766.9,443.7 774.9,440.7 782.9,437.1 790.9,433.7 798.9,427.8 806.9,423.9 814.9,417.7 822.9,408.9 830.9,404.9 838.9,401.6 846.9,395.3 854.9,387.8 862.9,383.2 870.9,382.2 879.0,387.6 887.0,395.8 895.0,401.6 903.0,409.3 911.0,411.2 919.0,412.8 927.0,417.2 935.0,422.4 943.0,427.8 951.0,430.0 959.0,432.5 967.0,432.4 975.0,434.0 983.0,433.8 991.0,436.9 999.0,439.0 1007.0,435.9 1015.1,433.0 1023.1,426.7 1031.1,421.9 1039.1,415.4 1047.1,411.6 1055.1,408.5 1063.1,409.0 1071.1,411.7 1079.1,414.0 1087.1,421.3 1095.1,428.9 1103.1,437.0 1111.1,441.2 1119.1,444.3 1127.1,448.6 1135.1,451.4 1143.2,448.4 1151.2,443.9 1159.2,434.9 1167.2,425.8 1175.2,413.6 1183.2,400.7 1191.2,388.0 1199.2,384.0 1207.2,377.9 1215.2,375.6 1223.2,382.1 1231.2,384.8 1239.2,395.5 1247.2,404.3 1255.2,414.6 1263.2,428.2 1271.2,438.8 1279.3,435.3 1287.3,437.0 1295.3,437.9 1303.3,432.2 1311.3,430.5 1319.3,432.0 1327.3,432.1 1335.3,430.4 1343.3,424.5 1351.3,418.1 1359.3,420.0 1367.3,417.8 1375.3,417.7 1383.3,417.1 1391.3,419.3 1399.3,415.6 1407.3,412.3 1415.4,413.6 1423.4,413.6 1431.4,418.9 1439.4,420.3" fill="none" stroke="#ffff00" stroke-width="1.3" stroke-linejoin="round"/>
<polyline points="6.3,122.0 14.3,111.0 22.3,110.0 30.3,118.0 38.3,130.8 46.3,142.0 54.3,146.6 62.3,147.0 70.3,145.8 78.4,140.0 86.4,135.8 94.4,137.0 102.4,138.0 110.4,139.0 118.4,143.8 126.4,143.8 134.4,141.0 142.4,138.0 150.4,141.4 158.4,151.9 166.4,172.9 174.4,193.8 182.4,219.8 190.4,236.8 198.4,245.9 206.5,249.5 214.5,256.0 222.5,255.2 230.5,258.4 238.5,250.8 246.5,240.6 254.5,234.0 262.5,230.8 270.5,237.4 278.5,256.8 286.5,274.4 294.5,283.2 302.5,293.6 310.5,293.4 318.5,281.7 326.5,275.5 334.5,277.6 342.6,276.6 350.6,278.6 358.6,286.3 366.6,293.9 374.6,291.6 382.6,282.5 390.6,273.9 398.6,265.3 406.6,254.6 414.6,245.0 422.6,241.3 430.6,241.0 438.6,244.8 446.6,242.7 454.6,244.3 462.6,247.3 470.6,251.8 478.7,256.6 486.7,267.2 494.7,276.6 502.7,285.2 510.7,295.1 518.7,295.9 526.7,297.5 534.7,294.6 542.7,288.8 550.7,277.4 558.7,272.6 566.7,272.1 574.7,276.3 582.7,278.9 590.7,281.9 598.7,285.3 606.8,283.0 614.8,291.4 622.8,303.2 630.8,315.6 638.8,326.8 646.8,344.4 654.8,356.6 662.8,375.9 670.8,396.2 678.8,410.0 686.8,430.2 694.8,446.2 702.8,457.7 710.8,464.6 718.8,474.7 726.8,463.3 734.8,452.3 742.9,443.7 750.9,430.5 758.9,421.0 766.9,424.0 774.9,429.1 782.9,430.5 790.9,436.9 798.9,434.5 806.9,423.8 814.9,406.2 822.9,387.3 830.9,372.9 838.9,368.6 846.9,366.8 854.9,369.3 862.9,379.0 870.9,391.5 879.0,406.6 887.0,424.8 895.0,433.8 903.0,439.6 911.0,430.8 919.0,418.9 927.0,409.5 935.0,410.9 943.0,416.0 951.0,429.2 959.0,446.1 967.0,455.3 975.0,457.1 983.0,451.7 991.0,444.7 999.0,431.9 1007.0,416.6 1015.1,408.9 1023.1,401.8 1031.1,399.2 1039.1,398.9 1047.1,406.6 1055.1,408.1 1063.1,416.1 1071.1,424.2 1079.1,429.0 1087.1,436.0 1095.1,449.6 1103.1,457.9 1111.1,458.2 1119.1,459.6 1127.1,461.1 1135.1,453.2 1143.2,439.0 1151.2,429.6 1159.2,410.2 1167.2,390.5 1175.2,374.0 1183.2,362.5 1191.2,346.4 1199.2,357.8 1207.2,365.3 1215.2,377.1 1223.2,401.7 1231.2,423.3 1239.2,433.3 1247.2,443.3 1255.2,452.2 1263.2,454.8 1271.2,454.4 1279.3,437.4 1287.3,430.8 1295.3,423.7 1303.3,409.6 1311.3,406.7 1319.3,426.6 1327.3,433.4 1335.3,437.2 1343.3,439.3 1351.3,429.5 1359.3,413.4 1367.3,402.2 1375.3,398.2 1383.3,394.8 1391.3,409.0 1399.3,417.9 1407.3,422.4 1415.4,429.1 1423.4,432.5 1431.4,428.8 1439.4,422.7" fill="none" stroke="#f0f0f0" stroke-width="1.25" stroke-linejoin="round"/>
<path d="M5.6 83.5 V74.3 H9.6 M5.6 77.5 H8.6 M11.5 82.5 q2.7 -3 5.5 -0.5 t5.5 -0.5" stroke="#c0c0c0" stroke-width="1.1" fill="none"/>
<text x="27.5" y="89" fill="#c0c0c0" font-size="17.6" textLength="64" lengthAdjust="spacingAndGlyphs">2886.81</text>
<path d="M694.5 504 V510.5 H712 M699 507.5 L695 510.5 L699 513.5" stroke="#d0d0d0" stroke-width="1.1" fill="none"/>
<text x="714" y="518.8" fill="#c0c0c0" font-size="17.6" textLength="65" lengthAdjust="spacingAndGlyphs">2331.84</text>
<text x="1196" y="341.5" fill="#c0c0c0" font-size="17.6" textLength="147.6" lengthAdjust="spacingAndGlyphs">2577.98 - 2566.63</text>
<text x="3.6" y="31.4" fill="#c0c0c0" font-size="20" textLength="34.6" lengthAdjust="spacingAndGlyphs" font-weight="300">上证</text>
<text x="40.6" y="29.5" fill="#c0c0c0" font-size="17.6" textLength="24.6" lengthAdjust="spacingAndGlyphs">50(</text>
<text x="67.3" y="31.4" fill="#c0c0c0" font-size="20" textLength="33.6" lengthAdjust="spacingAndGlyphs" font-weight="300">日线</text>
<text x="103.4" y="29.5" fill="#c0c0c0" font-size="17.6">.</text>
<text x="107.8" y="31.4" fill="#c0c0c0" font-size="20" textLength="51.6" lengthAdjust="spacingAndGlyphs" font-weight="300">前复权</text>
<text x="160.6" y="29.5" fill="#c0c0c0" font-size="17.6">)</text>
<text x="196.6" y="29.5" fill="#e8e8e8" font-size="17.6" textLength="37.9" lengthAdjust="spacingAndGlyphs">MA5:</text>
<text x="240.3" y="29.5" fill="#e8e8e8" font-size="17.6" textLength="65.1" lengthAdjust="spacingAndGlyphs">2461.12</text>
<text x="315.4" y="29.5" fill="#ffff00" font-size="17.6" textLength="49.4" lengthAdjust="spacingAndGlyphs">MA10:</text>
<text x="369.7" y="29.5" fill="#ffff00" font-size="17.6" textLength="64.6" lengthAdjust="spacingAndGlyphs">2465.28</text>
<text x="444.3" y="29.5" fill="#ff00ff" font-size="17.6" textLength="47.1" lengthAdjust="spacingAndGlyphs">MA20:</text>
<text x="498.7" y="29.5" fill="#ff00ff" font-size="17.6" textLength="64.8" lengthAdjust="spacingAndGlyphs">2466.00</text>
<text x="573" y="29.5" fill="#00e600" font-size="17.6" textLength="58.2" lengthAdjust="spacingAndGlyphs">MA250:</text>
<text x="637.9" y="29.5" fill="#00e600" font-size="17.6" textLength="64.9" lengthAdjust="spacingAndGlyphs">2689.30</text>
<rect x="3.85" y="595" width="4.9" height="116.0" fill="#54ffff"/>
<rect x="11.86" y="604" width="4.9" height="107.0" fill="#54ffff"/>
<rect x="19.86" y="620.4" width="4.9" height="90.6" fill="#54ffff"/>
<rect x="27.87" y="635.6" width="4.9" height="75.4" fill="#ff3232"/>
<rect x="35.87" y="641.6" width="4.9" height="69.4" fill="#54ffff"/>
<rect x="43.88" y="641.6" width="4.9" height="69.4" fill="#54ffff"/>
<rect x="51.89" y="601" width="4.9" height="110.0" fill="#ff3232"/>
<rect x="59.89" y="623.6" width="4.9" height="87.4" fill="#54ffff"/>
<rect x="67.90" y="643" width="4.9" height="68.0" fill="#ff3232"/>
<rect x="75.90" y="637" width="4.9" height="74.0" fill="#ff3232"/>
<rect x="83.91" y="607" width="4.9" height="104.0" fill="#54ffff"/>
<rect x="91.92" y="616" width="4.9" height="95.0" fill="#54ffff"/>
<rect x="99.92" y="638.4" width="4.9" height="72.6" fill="#54ffff"/>
<rect x="107.93" y="649" width="4.9" height="62.0" fill="#ff3232"/>
<rect x="115.93" y="647.6" width="4.9" height="63.4" fill="#54ffff"/>
<rect x="123.94" y="650.4" width="4.9" height="60.6" fill="#ff3232"/>
<rect x="131.95" y="647.6" width="4.9" height="63.4" fill="#ff3232"/>
<rect x="139.95" y="632.4" width="4.9" height="78.6" fill="#54ffff"/>
<rect x="147.96" y="640" width="4.9" height="71.0" fill="#54ffff"/>
<rect x="155.96" y="566.4" width="4.9" height="144.6" fill="#ff3232"/>
<rect x="163.97" y="611.6" width="4.9" height="99.4" fill="#54ffff"/>
<rect x="171.98" y="620.4" width="4.9" height="90.6" fill="#54ffff"/>
<rect x="179.98" y="631" width="4.9" height="80.0" fill="#54ffff"/>
<rect x="187.99" y="613" width="4.9" height="98.0" fill="#ff3232"/>
<rect x="195.99" y="637" width="4.9" height="74.0" fill="#54ffff"/>
<rect x="204.00" y="629.6" width="4.9" height="81.4" fill="#54ffff"/>
<rect x="212.01" y="644.4" width="4.9" height="66.6" fill="#ff3232"/>
<rect x="220.01" y="649" width="4.9" height="62.0" fill="#54ffff"/>
<rect x="228.02" y="649" width="4.9" height="62.0" fill="#ff3232"/>
<rect x="236.02" y="622" width="4.9" height="89.0" fill="#ff3232"/>
<rect x="244.03" y="620.4" width="4.9" height="90.6" fill="#ff3232"/>
<rect x="252.04" y="649" width="4.9" height="62.0" fill="#54ffff"/>
<rect x="260.04" y="659.6" width="4.9" height="51.4" fill="#54ffff"/>
<rect x="268.05" y="625" width="4.9" height="86.0" fill="#54ffff"/>
<rect x="276.05" y="647.6" width="4.9" height="63.4" fill="#54ffff"/>
<rect x="284.06" y="637" width="4.9" height="74.0" fill="#54ffff"/>
<rect x="292.07" y="650.4" width="4.9" height="60.6" fill="#ff3232"/>
<rect x="300.07" y="644" width="4.9" height="67.0" fill="#54ffff"/>
<rect x="308.08" y="652" width="4.9" height="59.0" fill="#ff3232"/>
<rect x="316.08" y="619" width="4.9" height="92.0" fill="#ff3232"/>
<rect x="324.09" y="655" width="4.9" height="56.0" fill="#54ffff"/>
<rect x="332.10" y="655" width="4.9" height="56.0" fill="#54ffff"/>
<rect x="340.10" y="644.4" width="4.9" height="66.6" fill="#54ffff"/>
<rect x="348.11" y="649" width="4.9" height="62.0" fill="#54ffff"/>
<rect x="356.11" y="649" width="4.9" height="62.0" fill="#ff3232"/>
<rect x="364.12" y="662.4" width="4.9" height="48.6" fill="#54ffff"/>
<rect x="372.13" y="649" width="4.9" height="62.0" fill="#ff3232"/>
<rect x="380.13" y="637" width="4.9" height="74.0" fill="#ff3232"/>
<rect x="388.14" y="662.4" width="4.9" height="48.6" fill="#54ffff"/>
<rect x="396.14" y="664" width="4.9" height="47.0" fill="#ff3232"/>
<rect x="404.15" y="655" width="4.9" height="56.0" fill="#54ffff"/>
<rect x="412.16" y="647.6" width="4.9" height="63.4" fill="#ff3232"/>
<rect x="420.16" y="658" width="4.9" height="53.0" fill="#54ffff"/>
<rect x="428.17" y="659.6" width="4.9" height="51.4" fill="#54ffff"/>
<rect x="436.17" y="671.6" width="4.9" height="39.4" fill="#54ffff"/>
<rect x="444.18" y="659.6" width="4.9" height="51.4" fill="#ff3232"/>
<rect x="452.19" y="646" width="4.9" height="65.0" fill="#54ffff"/>
<rect x="460.19" y="656.4" width="4.9" height="54.6" fill="#54ffff"/>
<rect x="468.20" y="650.4" width="4.9" height="60.6" fill="#54ffff"/>
<rect x="476.20" y="664" width="4.9" height="47.0" fill="#54ffff"/>
<rect x="484.21" y="664" width="4.9" height="47.0" fill="#54ffff"/>
<rect x="492.22" y="667" width="4.9" height="44.0" fill="#ff3232"/>
<rect x="500.22" y="647.6" width="4.9" height="63.4" fill="#54ffff"/>
<rect x="508.23" y="653.6" width="4.9" height="57.4" fill="#54ffff"/>
<rect x="516.23" y="649" width="4.9" height="62.0" fill="#ff3232"/>
<rect x="524.24" y="662.4" width="4.9" height="48.6" fill="#54ffff"/>
<rect x="532.25" y="659.6" width="4.9" height="51.4" fill="#ff3232"/>
<rect x="540.25" y="658" width="4.9" height="53.0" fill="#ff3232"/>
<rect x="548.26" y="662.4" width="4.9" height="48.6" fill="#54ffff"/>
<rect x="556.26" y="655" width="4.9" height="56.0" fill="#54ffff"/>
<rect x="564.27" y="650.4" width="4.9" height="60.6" fill="#54ffff"/>
<rect x="572.28" y="664" width="4.9" height="47.0" fill="#ff3232"/>
<rect x="580.28" y="664" width="4.9" height="47.0" fill="#ff3232"/>
<rect x="588.29" y="665.6" width="4.9" height="45.4" fill="#54ffff"/>
<rect x="596.29" y="662.4" width="4.9" height="48.6" fill="#ff3232"/>
<rect x="604.30" y="650.4" width="4.9" height="60.6" fill="#ff3232"/>
<rect x="612.31" y="579" width="4.9" height="132.0" fill="#54ffff"/>
<rect x="620.31" y="655" width="4.9" height="56.0" fill="#ff3232"/>
<rect x="628.32" y="653.6" width="4.9" height="57.4" fill="#54ffff"/>
<rect x="636.32" y="664" width="4.9" height="47.0" fill="#ff3232"/>
<rect x="644.33" y="656.4" width="4.9" height="54.6" fill="#54ffff"/>
<rect x="652.34" y="650.4" width="4.9" height="60.6" fill="#54ffff"/>
<rect x="660.34" y="646" width="4.9" height="65.0" fill="#54ffff"/>
<rect x="668.35" y="656.4" width="4.9" height="54.6" fill="#54ffff"/>
<rect x="676.35" y="662.4" width="4.9" height="48.6" fill="#ff3232"/>
<rect x="684.36" y="649" width="4.9" height="62.0" fill="#54ffff"/>
<rect x="692.37" y="643" width="4.9" height="68.0" fill="#54ffff"/>
<rect x="700.37" y="664" width="4.9" height="47.0" fill="#54ffff"/>
<rect x="708.38" y="652" width="4.9" height="59.0" fill="#ff3232"/>
<rect x="716.38" y="653.6" width="4.9" height="57.4" fill="#ff3232"/>
<rect x="724.39" y="655" width="4.9" height="56.0" fill="#ff3232"/>
<rect x="732.40" y="661" width="4.9" height="50.0" fill="#54ffff"/>
<rect x="740.40" y="661" width="4.9" height="50.0" fill="#ff3232"/>
<rect x="748.41" y="647.6" width="4.9" height="63.4" fill="#ff3232"/>
<rect x="756.41" y="664" width="4.9" height="47.0" fill="#54ffff"/>
<rect x="764.42" y="664" width="4.9" height="47.0" fill="#54ffff"/>
<rect x="772.43" y="671.6" width="4.9" height="39.4" fill="#54ffff"/>
<rect x="780.43" y="668.4" width="4.9" height="42.6" fill="#54ffff"/>
<rect x="788.44" y="662.4" width="4.9" height="48.6" fill="#54ffff"/>
<rect x="796.44" y="631" width="4.9" height="80.0" fill="#ff3232"/>
<rect x="804.45" y="619" width="4.9" height="92.0" fill="#ff3232"/>
<rect x="812.46" y="598" width="4.9" height="113.0" fill="#ff3232"/>
<rect x="820.46" y="649" width="4.9" height="62.0" fill="#54ffff"/>
<rect x="828.47" y="652" width="4.9" height="59.0" fill="#54ffff"/>
<rect x="836.47" y="665.6" width="4.9" height="45.4" fill="#54ffff"/>
<rect x="844.48" y="653.6" width="4.9" height="57.4" fill="#ff3232"/>
<rect x="852.49" y="662.4" width="4.9" height="48.6" fill="#ff3232"/>
<rect x="860.49" y="647.6" width="4.9" height="63.4" fill="#54ffff"/>
<rect x="868.50" y="643" width="4.9" height="68.0" fill="#54ffff"/>
<rect x="876.50" y="659.6" width="4.9" height="51.4" fill="#54ffff"/>
<rect x="884.51" y="650.4" width="4.9" height="60.6" fill="#54ffff"/>
<rect x="892.52" y="641.6" width="4.9" height="69.4" fill="#ff3232"/>
<rect x="900.52" y="655" width="4.9" height="56.0" fill="#54ffff"/>
<rect x="908.53" y="649" width="4.9" height="62.0" fill="#ff3232"/>
<rect x="916.53" y="665.6" width="4.9" height="45.4" fill="#54ffff"/>
<rect x="924.54" y="656.4" width="4.9" height="54.6" fill="#54ffff"/>
<rect x="932.55" y="670" width="4.9" height="41.0" fill="#54ffff"/>
<rect x="940.55" y="664" width="4.9" height="47.0" fill="#54ffff"/>
<rect x="948.56" y="650.4" width="4.9" height="60.6" fill="#ff3232"/>
<rect x="956.56" y="662.4" width="4.9" height="48.6" fill="#54ffff"/>
<rect x="964.57" y="658" width="4.9" height="53.0" fill="#ff3232"/>
<rect x="972.58" y="653.6" width="4.9" height="57.4" fill="#ff3232"/>
<rect x="980.58" y="673" width="4.9" height="38.0" fill="#54ffff"/>
<rect x="988.59" y="665.6" width="4.9" height="45.4" fill="#ff3232"/>
<rect x="996.59" y="664" width="4.9" height="47.0" fill="#ff3232"/>
<rect x="1004.60" y="644.4" width="4.9" height="66.6" fill="#ff3232"/>
<rect x="1012.61" y="662.4" width="4.9" height="48.6" fill="#54ffff"/>
<rect x="1020.61" y="667" width="4.9" height="44.0" fill="#54ffff"/>
<rect x="1028.62" y="667" width="4.9" height="44.0" fill="#54ffff"/>
<rect x="1036.62" y="649" width="4.9" height="62.0" fill="#ff3232"/>
<rect x="1044.63" y="667" width="4.9" height="44.0" fill="#ff3232"/>
<rect x="1052.64" y="664" width="4.9" height="47.0" fill="#ff3232"/>
<rect x="1060.64" y="662.4" width="4.9" height="48.6" fill="#54ffff"/>
<rect x="1068.65" y="662.4" width="4.9" height="48.6" fill="#54ffff"/>
<rect x="1076.65" y="667" width="4.9" height="44.0" fill="#ff3232"/>
<rect x="1084.66" y="668.4" width="4.9" height="42.6" fill="#54ffff"/>
<rect x="1092.67" y="668.4" width="4.9" height="42.6" fill="#54ffff"/>
<rect x="1100.67" y="671.6" width="4.9" height="39.4" fill="#54ffff"/>
<rect x="1108.68" y="659.6" width="4.9" height="51.4" fill="#ff3232"/>
<rect x="1116.68" y="671.6" width="4.9" height="39.4" fill="#ff3232"/>
<rect x="1124.69" y="677.6" width="4.9" height="33.4" fill="#54ffff"/>
<rect x="1132.70" y="656.4" width="4.9" height="54.6" fill="#ff3232"/>
<rect x="1140.70" y="643" width="4.9" height="68.0" fill="#ff3232"/>
<rect x="1148.71" y="656.4" width="4.9" height="54.6" fill="#54ffff"/>
<rect x="1156.71" y="614.4" width="4.9" height="96.6" fill="#ff3232"/>
<rect x="1164.72" y="653.6" width="4.9" height="57.4" fill="#ff3232"/>
<rect x="1172.73" y="633" width="4.9" height="78.0" fill="#ff3232"/>
<rect x="1180.73" y="656.4" width="4.9" height="54.6" fill="#54ffff"/>
<rect x="1188.74" y="643" width="4.9" height="68.0" fill="#ff3232"/>
<rect x="1196.74" y="632.4" width="4.9" height="78.6" fill="#54ffff"/>
<rect x="1204.75" y="659.6" width="4.9" height="51.4" fill="#ff3232"/>
<rect x="1212.76" y="662.4" width="4.9" height="48.6" fill="#54ffff"/>
<rect x="1220.76" y="625" width="4.9" height="86.0" fill="#54ffff"/>
<rect x="1228.77" y="643" width="4.9" height="68.0" fill="#ff3232"/>
<rect x="1236.77" y="662.4" width="4.9" height="48.6" fill="#54ffff"/>
<rect x="1244.78" y="664" width="4.9" height="47.0" fill="#ff3232"/>
<rect x="1252.79" y="652" width="4.9" height="59.0" fill="#54ffff"/>
<rect x="1260.79" y="658" width="4.9" height="53.0" fill="#54ffff"/>
<rect x="1268.80" y="637" width="4.9" height="74.0" fill="#ff3232"/>
<rect x="1276.80" y="604" width="4.9" height="107.0" fill="#ff3232"/>
<rect x="1284.81" y="628" width="4.9" height="83.0" fill="#54ffff"/>
<rect x="1292.82" y="625" width="4.9" height="86.0" fill="#ff3232"/>
<rect x="1300.82" y="638.4" width="4.9" height="72.6" fill="#ff3232"/>
<rect x="1308.83" y="643" width="4.9" height="68.0" fill="#54ffff"/>
<rect x="1316.83" y="643" width="4.9" height="68.0" fill="#54ffff"/>
<rect x="1324.84" y="635.6" width="4.9" height="75.4" fill="#ff3232"/>
<rect x="1332.85" y="631" width="4.9" height="80.0" fill="#ff3232"/>
<rect x="1340.85" y="623.6" width="4.9" height="87.4" fill="#54ffff"/>
<rect x="1348.86" y="601" width="4.9" height="110.0" fill="#ff3232"/>
<rect x="1356.86" y="644.4" width="4.9" height="66.6" fill="#54ffff"/>
<rect x="1364.87" y="659.6" width="4.9" height="51.4" fill="#54ffff"/>
<rect x="1372.88" y="649" width="4.9" height="62.0" fill="#54ffff"/>
<rect x="1380.88" y="662.4" width="4.9" height="48.6" fill="#54ffff"/>
<rect x="1388.89" y="646" width="4.9" height="65.0" fill="#54ffff"/>
<rect x="1396.89" y="656.4" width="4.9" height="54.6" fill="#ff3232"/>
<rect x="1404.90" y="646" width="4.9" height="65.0" fill="#ff3232"/>
<rect x="1412.91" y="647.6" width="4.9" height="63.4" fill="#54ffff"/>
<rect x="1420.91" y="653.6" width="4.9" height="57.4" fill="#ff3232"/>
<rect x="1428.92" y="637" width="4.9" height="74.0" fill="#ff3232"/>
<rect x="1436.92" y="641.6" width="4.9" height="69.4" fill="#ff3232"/>
<polyline points="6.3,571.6 14.3,583.6 22.3,597.0 30.3,608.0 38.3,619.0 46.3,624.4 54.3,624.4 62.3,621.0 70.3,622.4 78.4,624.3 86.4,625.5 94.4,626.7 102.4,628.5 110.4,629.8 118.4,630.4 126.4,631.3 134.4,636.0 142.4,636.8 150.4,636.5 158.4,629.5 166.4,629.9 174.4,630.4 182.4,629.6 190.4,626.0 198.4,625.0 206.5,622.9 214.5,622.6 222.5,624.2 230.5,625.1 238.5,630.7 246.5,631.6 254.5,634.4 262.5,637.3 270.5,638.5 278.5,639.6 286.5,640.3 294.5,640.9 302.5,640.4 310.5,640.7 318.5,640.4 326.5,643.9 334.5,644.5 342.6,642.9 350.6,645.3 358.6,645.5 366.6,648.0 374.6,647.9 382.6,647.2 390.6,648.2 398.6,652.7 406.6,652.7 414.6,652.0 422.6,653.3 430.6,654.4 438.6,656.7 446.6,656.4 454.6,656.1 462.6,658.0 470.6,656.8 478.7,656.8 486.7,657.7 494.7,659.7 502.7,658.6 510.7,658.0 518.7,655.8 526.7,656.0 534.7,657.4 542.7,657.6 550.7,658.8 558.7,657.9 566.7,656.5 574.7,656.2 582.7,657.8 590.7,659.0 598.7,660.4 606.8,659.2 614.8,651.1 622.8,650.8 630.8,649.9 638.8,650.8 646.8,651.4 654.8,650.1 662.8,648.3 670.8,647.4 678.8,647.4 686.8,647.2 694.8,653.6 702.8,654.5 710.8,654.4 718.8,653.3 726.8,653.2 734.8,654.2 742.9,655.7 750.9,654.9 758.9,655.0 766.9,656.5 774.9,659.4 782.9,659.8 790.9,660.9 798.9,658.6 806.9,655.0 814.9,648.7 822.9,647.5 830.9,647.9 838.9,648.1 846.9,647.1 854.9,646.1 862.9,644.1 870.9,642.1 879.0,645.0 887.0,648.1 895.0,652.5 903.0,653.1 911.0,652.8 919.0,652.8 927.0,653.1 935.0,653.8 943.0,655.5 951.0,656.2 959.0,656.5 967.0,657.2 975.0,658.4 983.0,660.2 991.0,661.9 999.0,661.7 1007.0,660.5 1015.1,659.8 1023.1,660.1 1031.1,661.7 1039.1,660.4 1047.1,661.3 1055.1,662.3 1063.1,661.3 1071.1,661.0 1079.1,661.3 1087.1,663.7 1095.1,664.3 1103.1,664.7 1111.1,664.0 1119.1,666.2 1127.1,667.3 1135.1,666.5 1143.2,664.6 1151.2,664.0 1159.2,658.7 1167.2,657.3 1175.2,653.7 1183.2,652.2 1191.2,650.5 1199.2,646.6 1207.2,644.8 1215.2,645.4 1223.2,643.6 1231.2,642.3 1239.2,647.1 1247.2,648.1 1255.2,650.0 1263.2,650.2 1271.2,649.6 1279.3,646.7 1287.3,643.6 1295.3,639.8 1303.3,641.2 1311.3,641.2 1319.3,639.2 1327.3,636.4 1335.3,634.3 1343.3,630.9 1351.3,627.3 1359.3,631.3 1367.3,634.5 1375.3,636.9 1383.3,639.3 1391.3,639.6 1399.3,640.9 1407.3,641.9 1415.4,643.6 1423.4,646.6 1431.4,650.2 1439.4,649.9" fill="none" stroke="#ffff00" stroke-width="1.4" stroke-linejoin="round"/>
<polyline points="6.3,618.4 14.3,620.0 22.3,613.6 30.3,617.0 38.3,619.3 46.3,628.6 54.3,628.0 62.3,628.7 70.3,630.2 78.4,629.2 86.4,622.3 94.4,625.3 102.4,628.3 110.4,629.5 118.4,631.6 126.4,640.3 134.4,646.6 142.4,645.4 150.4,643.6 158.4,627.4 166.4,619.6 174.4,614.2 182.4,613.9 190.4,608.5 198.4,622.6 206.5,626.2 214.5,631.0 222.5,634.6 230.5,641.8 238.5,638.8 246.5,637.0 254.5,637.9 262.5,640.0 270.5,635.2 278.5,640.3 286.5,643.6 294.5,643.9 302.5,640.8 310.5,646.2 318.5,640.5 326.5,644.1 334.5,645.0 342.6,645.1 350.6,644.5 358.6,650.5 366.6,652.0 374.6,650.8 382.6,649.3 390.6,652.0 398.6,655.0 406.6,653.5 414.6,653.2 422.6,657.4 430.6,656.8 438.6,658.4 446.6,659.3 454.6,659.0 462.6,658.6 470.6,656.8 478.7,655.3 486.7,656.2 494.7,660.4 502.7,658.6 510.7,659.2 518.7,656.2 526.7,655.9 534.7,654.4 542.7,656.5 550.7,658.3 558.7,659.5 566.7,657.1 574.7,658.0 582.7,659.2 590.7,659.8 598.7,661.3 606.8,661.3 614.8,644.3 622.8,642.5 630.8,640.1 638.8,640.4 646.8,641.6 654.8,655.9 662.8,654.1 670.8,654.6 678.8,654.3 686.8,652.8 694.8,651.4 702.8,655.0 710.8,654.1 718.8,652.3 726.8,653.5 734.8,657.1 742.9,656.5 750.9,655.6 758.9,657.7 766.9,659.5 774.9,661.6 782.9,663.1 790.9,666.1 798.9,659.5 806.9,650.5 814.9,635.8 822.9,631.9 830.9,629.8 838.9,636.7 846.9,643.6 854.9,656.5 862.9,656.2 870.9,654.4 879.0,653.2 887.0,652.6 895.0,648.4 903.0,649.9 911.0,651.1 919.0,652.3 927.0,653.5 935.0,659.2 943.0,661.0 951.0,661.3 959.0,660.6 967.0,661.0 975.0,657.7 983.0,659.5 991.0,662.5 999.0,662.8 1007.0,660.1 1015.1,661.9 1023.1,660.7 1031.1,661.0 1039.1,658.0 1047.1,662.5 1055.1,662.8 1063.1,661.9 1071.1,661.0 1079.1,664.6 1087.1,664.8 1095.1,665.7 1103.1,667.6 1111.1,667.0 1119.1,667.9 1127.1,669.8 1135.1,667.4 1143.2,661.6 1151.2,661.0 1159.2,649.6 1167.2,644.8 1175.2,640.1 1183.2,642.8 1191.2,640.1 1199.2,643.7 1207.2,644.9 1215.2,650.8 1223.2,644.5 1231.2,644.5 1239.2,650.5 1247.2,651.4 1255.2,649.3 1263.2,655.9 1271.2,654.7 1279.3,643.0 1287.3,635.8 1295.3,630.4 1303.3,626.5 1311.3,627.7 1319.3,635.5 1327.3,637.0 1335.3,638.2 1343.3,635.2 1351.3,626.8 1359.3,627.1 1367.3,631.9 1375.3,635.5 1383.3,643.3 1391.3,652.3 1399.3,654.7 1407.3,652.0 1415.4,651.7 1423.4,649.9 1431.4,648.1 1439.4,645.2" fill="none" stroke="#f0f0f0" stroke-width="1.3" stroke-linejoin="round"/>
<text x="3" y="556.3" fill="#e0e0e0" font-size="17.6" textLength="76" lengthAdjust="spacingAndGlyphs">VOLUME:</text>
<text x="86" y="556.3" fill="#e0e0e0" font-size="17.6" textLength="107" lengthAdjust="spacingAndGlyphs">29720152.00</text>
<text x="202.4" y="556.3" fill="#e0e0e0" font-size="17.6" textLength="36.6" lengthAdjust="spacingAndGlyphs">MA5:</text>
<text x="246.5" y="556.3" fill="#e0e0e0" font-size="17.6" textLength="106.5" lengthAdjust="spacingAndGlyphs">28132842.00</text>
<text x="363" y="556.3" fill="#ffff00" font-size="17.6" textLength="47" lengthAdjust="spacingAndGlyphs">MA10:</text>
<text x="417" y="556.3" fill="#ffff00" font-size="17.6" textLength="107" lengthAdjust="spacingAndGlyphs">26018046.00</text>
<rect x="5.55" y="796" width="1.5" height="37.4" fill="#40dede"/>
<rect x="13.56" y="796" width="1.5" height="31.4" fill="#40dede"/>
<rect x="21.56" y="796" width="1.5" height="31.4" fill="#40dede"/>
<rect x="29.57" y="796" width="1.5" height="28.6" fill="#40dede"/>
<rect x="37.57" y="796" width="1.5" height="28.6" fill="#40dede"/>
<rect x="45.58" y="796" width="1.5" height="25.4" fill="#40dede"/>
<rect x="53.59" y="796" width="1.5" height="18.0" fill="#40dede"/>
<rect x="61.59" y="796" width="1.5" height="15.0" fill="#40dede"/>
<rect x="69.60" y="796" width="1.5" height="7.4" fill="#40dede"/>
<rect x="77.60" y="796" width="1.5" height="1.5" fill="#40dede"/>
<rect x="85.61" y="791.4" width="1.5" height="4.6" fill="#f03030"/>
<rect x="93.62" y="792" width="1.5" height="4.0" fill="#f03030"/>
<rect x="101.62" y="793" width="1.5" height="3.0" fill="#f03030"/>
<rect x="109.63" y="790" width="1.5" height="6.0" fill="#f03030"/>
<rect x="117.63" y="791.4" width="1.5" height="4.6" fill="#f03030"/>
<rect x="125.64" y="788.6" width="1.5" height="7.4" fill="#f03030"/>
<rect x="133.65" y="784" width="1.5" height="12.0" fill="#f03030"/>
<rect x="141.65" y="784" width="1.5" height="12.0" fill="#f03030"/>
<rect x="149.66" y="787" width="1.5" height="9.0" fill="#f03030"/>
<rect x="157.66" y="796" width="1.5" height="3.0" fill="#40dede"/>
<rect x="165.67" y="796" width="1.5" height="18.0" fill="#40dede"/>
<rect x="173.68" y="796" width="1.5" height="25.4" fill="#40dede"/>
<rect x="181.68" y="796" width="1.5" height="34.6" fill="#40dede"/>
<rect x="189.69" y="796" width="1.5" height="31.4" fill="#40dede"/>
<rect x="197.69" y="796" width="1.5" height="30.0" fill="#40dede"/>
<rect x="205.70" y="796" width="1.5" height="28.6" fill="#40dede"/>
<rect x="213.71" y="796" width="1.5" height="25.4" fill="#40dede"/>
<rect x="221.71" y="796" width="1.5" height="22.6" fill="#40dede"/>
<rect x="229.72" y="796" width="1.5" height="15.0" fill="#40dede"/>
<rect x="245.73" y="785.4" width="1.5" height="10.6" fill="#f03030"/>
<rect x="253.74" y="782.6" width="1.5" height="13.4" fill="#f03030"/>
<rect x="261.74" y="784" width="1.5" height="12.0" fill="#f03030"/>
<rect x="269.75" y="793" width="1.5" height="3.0" fill="#f03030"/>
<rect x="277.75" y="796" width="1.5" height="6.0" fill="#40dede"/>
<rect x="285.76" y="796" width="1.5" height="7.4" fill="#40dede"/>
<rect x="293.77" y="796" width="1.5" height="3.0" fill="#40dede"/>
<rect x="301.77" y="796" width="1.5" height="4.6" fill="#40dede"/>
<rect x="317.78" y="787.4" width="1.5" height="8.6" fill="#f03030"/>
<rect x="325.79" y="781.4" width="1.5" height="14.6" fill="#f03030"/>
<rect x="333.80" y="784.6" width="1.5" height="11.4" fill="#f03030"/>
<rect x="341.80" y="787.4" width="1.5" height="8.6" fill="#f03030"/>
<rect x="349.81" y="789" width="1.5" height="7.0" fill="#f03030"/>
<rect x="357.81" y="787.4" width="1.5" height="8.6" fill="#f03030"/>
<rect x="365.82" y="789" width="1.5" height="7.0" fill="#f03030"/>
<rect x="373.83" y="783" width="1.5" height="13.0" fill="#f03030"/>
<rect x="381.83" y="774" width="1.5" height="22.0" fill="#f03030"/>
<rect x="389.84" y="769.4" width="1.5" height="26.6" fill="#f03030"/>
<rect x="397.84" y="766.6" width="1.5" height="29.4" fill="#f03030"/>
<rect x="405.85" y="765" width="1.5" height="31.0" fill="#f03030"/>
<rect x="413.86" y="762" width="1.5" height="34.0" fill="#f03030"/>
<rect x="421.86" y="760.4" width="1.5" height="35.6" fill="#f03030"/>
<rect x="429.87" y="766.6" width="1.5" height="29.4" fill="#f03030"/>
<rect x="437.87" y="774" width="1.5" height="22.0" fill="#f03030"/>
<rect x="445.88" y="774" width="1.5" height="22.0" fill="#f03030"/>
<rect x="453.89" y="774" width="1.5" height="22.0" fill="#f03030"/>
<rect x="461.89" y="777" width="1.5" height="19.0" fill="#f03030"/>
<rect x="469.90" y="787.4" width="1.5" height="8.6" fill="#f03030"/>
<rect x="485.91" y="796" width="1.5" height="4.6" fill="#40dede"/>
<rect x="493.92" y="796" width="1.5" height="6.0" fill="#40dede"/>
<rect x="501.92" y="796" width="1.5" height="7.4" fill="#40dede"/>
<rect x="509.93" y="796" width="1.5" height="16.0" fill="#40dede"/>
<rect x="517.93" y="796" width="1.5" height="13.4" fill="#40dede"/>
<rect x="525.94" y="796" width="1.5" height="12.0" fill="#40dede"/>
<rect x="533.95" y="796" width="1.5" height="3.0" fill="#40dede"/>
<rect x="541.95" y="793.4" width="1.5" height="2.6" fill="#f03030"/>
<rect x="549.96" y="790.6" width="1.5" height="5.4" fill="#f03030"/>
<rect x="557.96" y="789" width="1.5" height="7.0" fill="#f03030"/>
<rect x="565.97" y="793.4" width="1.5" height="2.6" fill="#f03030"/>
<rect x="581.98" y="792" width="1.5" height="4.0" fill="#f03030"/>
<rect x="589.99" y="794" width="1.5" height="2.0" fill="#f03030"/>
<rect x="597.99" y="793.4" width="1.5" height="2.6" fill="#f03030"/>
<rect x="606.00" y="793.4" width="1.5" height="2.6" fill="#f03030"/>
<rect x="614.01" y="796" width="1.5" height="6.0" fill="#40dede"/>
<rect x="622.01" y="796" width="1.5" height="12.0" fill="#40dede"/>
<rect x="630.02" y="796" width="1.5" height="18.0" fill="#40dede"/>
<rect x="638.02" y="796" width="1.5" height="19.4" fill="#40dede"/>
<rect x="646.03" y="796" width="1.5" height="25.4" fill="#40dede"/>
<rect x="654.04" y="796" width="1.5" height="33.0" fill="#40dede"/>
<rect x="662.04" y="796" width="1.5" height="42.0" fill="#40dede"/>
<rect x="670.05" y="796" width="1.5" height="49.4" fill="#40dede"/>
<rect x="678.05" y="796" width="1.5" height="45.0" fill="#40dede"/>
<rect x="686.06" y="796" width="1.5" height="49.4" fill="#40dede"/>
<rect x="694.07" y="796" width="1.5" height="49.4" fill="#40dede"/>
<rect x="702.07" y="796" width="1.5" height="48.0" fill="#40dede"/>
<rect x="710.08" y="796" width="1.5" height="43.4" fill="#40dede"/>
<rect x="718.08" y="796" width="1.5" height="33.0" fill="#40dede"/>
<rect x="726.09" y="796" width="1.5" height="13.4" fill="#40dede"/>
<rect x="742.10" y="792" width="1.5" height="4.0" fill="#f03030"/>
<rect x="750.11" y="781.4" width="1.5" height="14.6" fill="#f03030"/>
<rect x="758.11" y="774" width="1.5" height="22.0" fill="#f03030"/>
<rect x="766.12" y="774" width="1.5" height="22.0" fill="#f03030"/>
<rect x="774.13" y="775.4" width="1.5" height="20.6" fill="#f03030"/>
<rect x="782.13" y="778.6" width="1.5" height="17.4" fill="#f03030"/>
<rect x="790.14" y="780" width="1.5" height="16.0" fill="#f03030"/>
<rect x="798.14" y="771" width="1.5" height="25.0" fill="#f03030"/>
<rect x="806.15" y="760.4" width="1.5" height="35.6" fill="#f03030"/>
<rect x="814.16" y="748.4" width="1.5" height="47.6" fill="#f03030"/>
<rect x="822.16" y="744" width="1.5" height="52.0" fill="#f03030"/>
<rect x="830.17" y="747" width="1.5" height="49.0" fill="#f03030"/>
<rect x="838.17" y="753" width="1.5" height="43.0" fill="#f03030"/>
<rect x="846.18" y="756" width="1.5" height="40.0" fill="#f03030"/>
<rect x="854.19" y="759" width="1.5" height="37.0" fill="#f03030"/>
<rect x="862.19" y="769.4" width="1.5" height="26.6" fill="#f03030"/>
<rect x="870.20" y="786" width="1.5" height="10.0" fill="#f03030"/>
<rect x="878.20" y="796" width="1.5" height="1.4" fill="#40dede"/>
<rect x="886.21" y="796" width="1.5" height="12.0" fill="#40dede"/>
<rect x="894.22" y="796" width="1.5" height="6.0" fill="#40dede"/>
<rect x="902.22" y="796" width="1.5" height="6.0" fill="#40dede"/>
<rect x="918.23" y="790.6" width="1.5" height="5.4" fill="#f03030"/>
<rect x="926.24" y="790.6" width="1.5" height="5.4" fill="#f03030"/>
<rect x="934.25" y="792" width="1.5" height="4.0" fill="#f03030"/>
<rect x="942.25" y="796" width="1.5" height="4.0" fill="#40dede"/>
<rect x="950.26" y="796" width="1.5" height="10.6" fill="#40dede"/>
<rect x="958.26" y="796" width="1.5" height="18.0" fill="#40dede"/>
<rect x="966.27" y="796" width="1.5" height="16.6" fill="#40dede"/>
<rect x="974.28" y="796" width="1.5" height="7.4" fill="#40dede"/>
<rect x="982.28" y="796" width="1.5" height="1.4" fill="#40dede"/>
<rect x="990.29" y="793.4" width="1.5" height="2.6" fill="#f03030"/>
<rect x="998.29" y="789" width="1.5" height="7.0" fill="#f03030"/>
<rect x="1006.30" y="778.6" width="1.5" height="17.4" fill="#f03030"/>
<rect x="1014.31" y="774" width="1.5" height="22.0" fill="#f03030"/>
<rect x="1022.31" y="772.6" width="1.5" height="23.4" fill="#f03030"/>
<rect x="1030.32" y="777" width="1.5" height="19.0" fill="#f03030"/>
<rect x="1038.32" y="781.4" width="1.5" height="14.6" fill="#f03030"/>
<rect x="1046.33" y="786" width="1.5" height="10.0" fill="#f03030"/>
<rect x="1054.34" y="784.6" width="1.5" height="11.4" fill="#f03030"/>
<rect x="1062.34" y="792" width="1.5" height="4.0" fill="#f03030"/>
<rect x="1070.35" y="796" width="1.5" height="3.0" fill="#40dede"/>
<rect x="1078.35" y="796" width="1.5" height="6.0" fill="#40dede"/>
<rect x="1086.36" y="796" width="1.5" height="10.6" fill="#40dede"/>
<rect x="1094.37" y="796" width="1.5" height="15.0" fill="#40dede"/>
<rect x="1102.37" y="796" width="1.5" height="19.4" fill="#40dede"/>
<rect x="1110.38" y="796" width="1.5" height="15.0" fill="#40dede"/>
<rect x="1118.38" y="796" width="1.5" height="10.6" fill="#40dede"/>
<rect x="1126.39" y="796" width="1.5" height="10.6" fill="#40dede"/>
<rect x="1134.40" y="796" width="1.5" height="1.4" fill="#40dede"/>
<rect x="1142.40" y="789" width="1.5" height="7.0" fill="#f03030"/>
<rect x="1150.41" y="781.4" width="1.5" height="14.6" fill="#f03030"/>
<rect x="1158.41" y="766.6" width="1.5" height="29.4" fill="#f03030"/>
<rect x="1166.42" y="762" width="1.5" height="34.0" fill="#f03030"/>
<rect x="1174.43" y="754.4" width="1.5" height="41.6" fill="#f03030"/>
<rect x="1182.43" y="754.4" width="1.5" height="41.6" fill="#f03030"/>
<rect x="1190.44" y="751.4" width="1.5" height="44.6" fill="#f03030"/>
<rect x="1198.44" y="771" width="1.5" height="25.0" fill="#f03030"/>
<rect x="1206.45" y="783" width="1.5" height="13.0" fill="#f03030"/>
<rect x="1214.46" y="792" width="1.5" height="4.0" fill="#f03030"/>
<rect x="1222.46" y="796" width="1.5" height="15.0" fill="#40dede"/>
<rect x="1230.47" y="796" width="1.5" height="19.4" fill="#40dede"/>
<rect x="1238.47" y="796" width="1.5" height="27.0" fill="#40dede"/>
<rect x="1246.48" y="796" width="1.5" height="28.6" fill="#40dede"/>
<rect x="1254.49" y="796" width="1.5" height="27.0" fill="#40dede"/>
<rect x="1262.49" y="796" width="1.5" height="33.0" fill="#40dede"/>
<rect x="1270.50" y="796" width="1.5" height="24.0" fill="#40dede"/>
<rect x="1278.50" y="796" width="1.5" height="3.0" fill="#40dede"/>
<rect x="1286.51" y="796" width="1.5" height="1.4" fill="#40dede"/>
<rect x="1302.52" y="792" width="1.5" height="4.0" fill="#f03030"/>
<rect x="1310.53" y="793.4" width="1.5" height="2.6" fill="#f03030"/>
<rect x="1318.53" y="796" width="1.5" height="8.0" fill="#40dede"/>
<rect x="1326.54" y="796" width="1.5" height="10.6" fill="#40dede"/>
<rect x="1334.55" y="796" width="1.5" height="7.4" fill="#40dede"/>
<rect x="1342.55" y="796" width="1.5" height="1.4" fill="#40dede"/>
<rect x="1350.56" y="784.6" width="1.5" height="11.4" fill="#f03030"/>
<rect x="1358.56" y="781.4" width="1.5" height="14.6" fill="#f03030"/>
<rect x="1366.57" y="780" width="1.5" height="16.0" fill="#f03030"/>
<rect x="1374.58" y="784.6" width="1.5" height="11.4" fill="#f03030"/>
<rect x="1382.58" y="786" width="1.5" height="10.0" fill="#f03030"/>
<rect x="1398.59" y="796" width="1.5" height="1.4" fill="#40dede"/>
<rect x="1406.60" y="796" width="1.5" height="3.0" fill="#40dede"/>
<rect x="1414.61" y="796" width="1.5" height="7.4" fill="#40dede"/>
<rect x="1422.61" y="796" width="1.5" height="6.0" fill="#40dede"/>
<rect x="1430.62" y="796" width="1.5" height="3.0" fill="#40dede"/>
<rect x="1438.62" y="794.6" width="1.5" height="1.4" fill="#f03030"/>
<polyline points="6.3,810.7 14.3,816.0 22.3,820.3 30.3,823.4 38.3,826.9 46.3,830.2 54.3,832.9 62.3,834.5 70.3,834.8 78.4,834.9 86.4,834.4 94.4,834.2 102.4,833.6 110.4,833.1 118.4,831.9 126.4,830.9 134.4,829.4 142.4,828.2 150.4,827.3 158.4,828.0 166.4,830.6 174.4,834.1 182.4,838.4 190.4,842.5 198.4,846.3 206.5,849.8 214.5,853.0 222.5,855.8 230.5,856.9 238.5,856.6 246.5,855.1 254.5,853.9 262.5,852.6 270.5,852.0 278.5,852.7 286.5,854.0 294.5,854.9 302.5,855.1 310.5,854.2 318.5,853.4 326.5,851.2 334.5,849.3 342.6,847.5 350.6,846.7 358.6,846.1 366.6,845.2 374.6,843.1 382.6,839.9 390.6,836.2 398.6,832.5 406.6,828.4 414.6,824.3 422.6,820.4 430.6,817.1 438.6,814.0 446.6,810.9 454.6,808.5 462.6,806.3 470.6,804.9 478.7,804.5 486.7,805.0 494.7,806.7 502.7,808.3 510.7,810.1 518.7,811.8 526.7,813.1 534.7,814.1 542.7,813.3 550.7,812.3 558.7,811.0 566.7,810.2 574.7,809.7 582.7,809.1 590.7,808.8 598.7,808.6 606.8,809.1 614.8,810.2 622.8,811.7 630.8,813.6 638.8,816.3 646.8,819.8 654.8,824.6 662.8,829.4 670.8,834.7 678.8,840.2 686.8,846.2 694.8,852.7 702.8,859.0 710.8,864.6 718.8,869.2 726.8,871.4 734.8,870.6 742.9,868.1 750.9,865.4 758.9,863.6 766.9,861.8 774.9,859.3 782.9,856.8 790.9,854.7 798.9,851.8 806.9,847.7 814.9,841.5 822.9,834.9 830.9,828.1 838.9,822.3 846.9,817.1 854.9,813.1 862.9,808.9 870.9,807.2 879.0,807.6 887.0,809.4 895.0,811.0 903.0,811.0 911.0,810.8 919.0,809.5 927.0,808.6 935.0,808.2 943.0,809.1 951.0,810.8 959.0,813.1 967.0,815.2 975.0,816.6 983.0,816.8 991.0,815.9 999.0,814.2 1007.0,811.9 1015.1,809.8 1023.1,806.7 1031.1,804.3 1039.1,801.4 1047.1,799.9 1055.1,798.8 1063.1,799.1 1071.1,800.0 1079.1,801.0 1087.1,802.2 1095.1,804.0 1103.1,806.1 1111.1,808.0 1119.1,809.5 1127.1,810.6 1135.1,810.4 1143.2,809.7 1151.2,807.6 1159.2,804.5 1167.2,799.5 1175.2,793.7 1183.2,788.8 1191.2,784.3 1199.2,780.9 1207.2,778.6 1215.2,778.6 1223.2,780.1 1231.2,782.8 1239.2,785.8 1247.2,790.2 1255.2,794.6 1263.2,798.5 1271.2,800.6 1279.3,801.5 1287.3,801.1 1295.3,800.7 1303.3,799.7 1311.3,799.6 1319.3,800.3 1327.3,801.7 1335.3,803.0 1343.3,802.3 1351.3,801.0 1359.3,798.8 1367.3,796.9 1375.3,795.6 1383.3,794.2 1391.3,794.6 1399.3,795.3 1407.3,796.4 1415.4,796.6 1423.4,797.1 1431.4,797.5 1439.4,797.7" fill="none" stroke="#ffff00" stroke-width="1.4" stroke-linejoin="round"/>
<polyline points="6.3,829.4 14.3,832.6 22.3,836.0 30.3,838.0 38.3,840.6 46.3,843.4 54.3,842.6 62.3,842.0 70.3,839.0 78.4,835.4 86.4,832.6 94.4,831.6 102.4,832.6 110.4,830.0 118.4,830.0 126.4,826.6 134.4,824.0 142.4,822.0 150.4,822.0 158.4,829.0 166.4,839.0 174.4,847.0 182.4,855.4 190.4,858.6 198.4,861.4 206.5,864.0 214.5,866.0 222.5,867.4 230.5,865.4 238.5,856.6 246.5,850.0 254.5,846.6 262.5,847.0 270.5,850.0 278.5,854.6 286.5,858.6 294.5,857.0 302.5,856.6 310.5,855.4 318.5,848.6 326.5,844.6 334.5,843.0 342.6,843.0 350.6,843.0 358.6,842.0 366.6,842.0 374.6,837.4 382.6,829.0 390.6,822.6 398.6,818.0 406.6,813.4 414.6,806.6 422.6,802.6 430.6,802.6 438.6,802.6 446.6,800.0 454.6,797.0 462.6,797.0 470.6,800.0 478.7,804.0 486.7,807.4 494.7,809.0 502.7,812.6 510.7,818.0 518.7,818.0 526.7,820.0 534.7,815.4 542.7,813.0 550.7,809.0 558.7,807.4 566.7,809.0 574.7,809.0 582.7,807.4 590.7,807.4 598.7,807.4 606.8,807.4 614.8,813.0 622.8,818.0 630.8,822.0 638.8,825.4 646.8,833.0 654.8,840.0 662.8,851.0 670.8,859.4 678.8,862.0 686.8,871.0 694.8,877.4 702.8,883.0 710.8,887.0 718.8,886.0 726.8,879.4 734.8,872.0 742.9,865.0 750.9,858.0 758.9,853.0 766.9,850.6 774.9,849.4 782.9,848.0 790.9,846.0 798.9,841.0 806.9,830.0 814.9,818.0 822.9,809.0 830.9,803.4 838.9,800.0 846.9,797.4 854.9,794.0 862.9,796.0 870.9,800.0 879.0,808.0 887.0,816.6 895.0,813.4 903.0,815.0 911.0,810.6 919.0,807.0 927.0,805.4 935.0,806.0 943.0,810.6 951.0,816.0 959.0,822.0 967.0,824.0 975.0,820.6 983.0,818.0 991.0,815.0 999.0,810.6 1007.0,803.4 1015.1,798.6 1023.1,796.0 1031.1,793.4 1039.1,795.0 1047.1,794.0 1055.1,792.6 1063.1,797.0 1071.1,801.4 1079.1,804.0 1087.1,807.4 1095.1,811.0 1103.1,816.0 1111.1,816.0 1119.1,814.6 1127.1,816.0 1135.1,812.6 1143.2,805.0 1151.2,801.4 1159.2,791.0 1167.2,782.0 1175.2,773.0 1183.2,767.4 1191.2,762.0 1199.2,768.0 1207.2,771.4 1215.2,775.4 1223.2,788.0 1231.2,792.0 1239.2,799.0 1247.2,804.0 1255.2,809.0 1263.2,815.0 1271.2,813.4 1279.3,803.4 1287.3,802.0 1295.3,800.0 1303.3,798.6 1311.3,797.0 1319.3,804.0 1327.3,808.0 1335.3,806.0 1343.3,804.6 1351.3,795.0 1359.3,791.0 1367.3,789.4 1375.3,789.4 1383.3,789.4 1391.3,793.0 1399.3,797.0 1407.3,798.0 1415.4,800.0 1423.4,800.0 1431.4,799.4 1439.4,797.0" fill="none" stroke="#f0f0f0" stroke-width="1.3" stroke-linejoin="round"/>
<text x="3" y="732" fill="#c0c0c0" font-size="17.6" textLength="122" lengthAdjust="spacingAndGlyphs">MACD(12,26,9)</text>
<text x="135" y="732" fill="#e0e0e0" font-size="17.6" textLength="30" lengthAdjust="spacingAndGlyphs">DIF:</text>
<text x="171" y="732" fill="#e0e0e0" font-size="17.6" textLength="41" lengthAdjust="spacingAndGlyphs">-0.30</text>
<text x="222" y="732" fill="#ffff00" font-size="17.6" textLength="38" lengthAdjust="spacingAndGlyphs">DEA:</text>
<text x="266" y="732" fill="#ffff00" font-size="17.6" textLength="41" lengthAdjust="spacingAndGlyphs">-0.93</text>
<text x="317" y="732" fill="#ff00ff" font-size="17.6" textLength="52" lengthAdjust="spacingAndGlyphs">MACD:</text>
<text x="376" y="732" fill="#ff00ff" font-size="17.6" textLength="34" lengthAdjust="spacingAndGlyphs">1.25</text>
</g>
</svg></body></html>
